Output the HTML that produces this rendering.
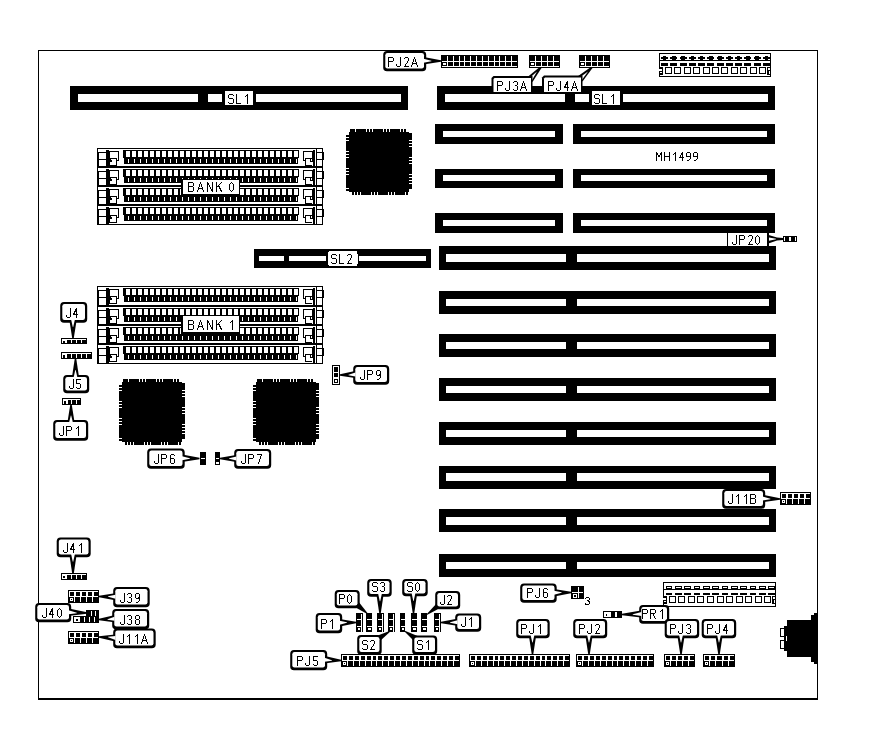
<!DOCTYPE html>
<html><head><meta charset="utf-8"><title>MH1499</title>
<style>
html,body{margin:0;padding:0;background:#fff;}
body{width:882px;height:737px;overflow:hidden;}
svg{display:block}
text{font-family:"Liberation Sans",sans-serif;fill:#000;}
.t{fill:none;stroke:#000;stroke-width:1;stroke-linecap:square;stroke-linejoin:bevel;}
</style></head><body>
<svg width="882" height="737" viewBox="0 0 882 737" shape-rendering="crispEdges">
<defs>
<pattern id="simmTop" x="0" y="0" width="6" height="8" patternUnits="userSpaceOnUse" patternTransform="translate(124 0)">
<rect x="0" y="0" width="6" height="8" fill="#000"/><rect x="2" y="0" width="4" height="8" fill="#fff"/></pattern>
<pattern id="simmBot" x="0" y="0" width="6" height="4" patternUnits="userSpaceOnUse" patternTransform="translate(124 0)">
<rect x="0" y="0" width="6" height="4" fill="#000"/><rect x="3.5" y="0" width="1.2" height="4" fill="#fff"/></pattern>
</defs>
<rect x="0" y="0" width="882" height="737" fill="#fff"/>
<rect x="38" y="50" width="780" height="1" fill="#000" />
<rect x="38" y="50" width="1" height="650" fill="#000" />
<rect x="817" y="50" width="1" height="650" fill="#000" />
<rect x="38" y="698" width="780" height="2" fill="#000" />
<rect x="70" y="86" width="338" height="24" fill="#000" />
<rect x="78" y="94" width="120" height="8" fill="#fff" />
<rect x="208" y="94" width="14" height="8" fill="#fff" />
<rect x="256" y="94" width="145" height="8" fill="#fff" />
<rect x="437" y="86" width="338" height="24" fill="#000" />
<rect x="445" y="94" width="120" height="8" fill="#fff" />
<rect x="575" y="94" width="14" height="8" fill="#fff" />
<rect x="623" y="94" width="145" height="8" fill="#fff" />
<rect x="435" y="124" width="128" height="20" fill="#000" />
<rect x="443" y="131" width="112" height="6" fill="#fff" />
<rect x="573" y="124" width="202" height="20" fill="#000" />
<rect x="581" y="131" width="186" height="6" fill="#fff" />
<rect x="435" y="169" width="128" height="19" fill="#000" />
<rect x="443" y="175" width="112" height="6" fill="#fff" />
<rect x="573" y="169" width="202" height="19" fill="#000" />
<rect x="581" y="175" width="186" height="6" fill="#fff" />
<rect x="435" y="213" width="128" height="20" fill="#000" />
<rect x="443" y="220" width="112" height="6" fill="#fff" />
<rect x="573" y="213" width="202" height="20" fill="#000" />
<rect x="581" y="220" width="186" height="6" fill="#fff" />
<rect x="439" y="246" width="337" height="24" fill="#000" />
<rect x="446" y="254" width="120" height="8" fill="#fff" />
<rect x="577" y="254" width="192" height="8" fill="#fff" />
<rect x="439" y="291" width="337" height="23" fill="#000" />
<rect x="446" y="299" width="120" height="7" fill="#fff" />
<rect x="577" y="299" width="192" height="7" fill="#fff" />
<rect x="439" y="334" width="337" height="23" fill="#000" />
<rect x="446" y="342" width="120" height="7" fill="#fff" />
<rect x="577" y="342" width="192" height="7" fill="#fff" />
<rect x="439" y="378" width="337" height="23" fill="#000" />
<rect x="446" y="386" width="120" height="7" fill="#fff" />
<rect x="577" y="386" width="192" height="7" fill="#fff" />
<rect x="439" y="422" width="337" height="23" fill="#000" />
<rect x="446" y="430" width="120" height="7" fill="#fff" />
<rect x="577" y="430" width="192" height="7" fill="#fff" />
<rect x="439" y="466" width="337" height="23" fill="#000" />
<rect x="446" y="473" width="120" height="8" fill="#fff" />
<rect x="577" y="473" width="192" height="8" fill="#fff" />
<rect x="439" y="509" width="337" height="23" fill="#000" />
<rect x="446" y="517" width="120" height="8" fill="#fff" />
<rect x="577" y="517" width="192" height="8" fill="#fff" />
<rect x="439" y="554" width="337" height="23" fill="#000" />
<rect x="446" y="562" width="120" height="7" fill="#fff" />
<rect x="577" y="562" width="192" height="7" fill="#fff" />
<rect x="254" y="249" width="177" height="19" fill="#000" />
<rect x="259" y="256" width="25" height="5" fill="#fff" />
<rect x="289" y="256" width="37" height="5" fill="#fff" />
<rect x="359" y="256" width="67" height="5" fill="#fff" />
<rect x="97" y="148" width="226" height="20" fill="#000" />
<rect x="98" y="149" width="224" height="18" fill="#fff" />
<rect x="97" y="148" width="2" height="19" fill="#000" />
<rect x="98" y="151.5" width="8" height="1" fill="#000" />
<rect x="98" y="158.5" width="8" height="1.5" fill="#000" />
<rect x="98" y="149" width="1" height="3" fill="#fff" />
<rect x="106" y="150" width="3" height="17" fill="#000" />
<rect x="109" y="151" width="10" height="10" fill="#000" />
<rect x="110" y="152" width="8" height="8" fill="#fff" />
<rect x="109" y="158" width="8" height="8" fill="#000" />
<rect x="109.5" y="162" width="6.5" height="3" fill="#fff" />
<rect x="111" y="159" width="5" height="3" fill="#fff" />
<rect x="109" y="160" width="3" height="2" fill="#000" />
<rect x="109" y="161" width="1" height="5" fill="#000" />
<rect x="316" y="149" width="1" height="18" fill="#000" />
<rect x="317" y="151.5" width="6" height="1" fill="#000" />
<rect x="317" y="158.5" width="6" height="1.5" fill="#000" />
<rect x="322" y="152" width="2" height="7.5" fill="#000" />
<rect x="312.5" y="150" width="2.5" height="17" fill="#000" />
<rect x="303" y="151" width="10" height="10" fill="#000" />
<rect x="304" y="152" width="8" height="8" fill="#fff" />
<rect x="305" y="158" width="7" height="8" fill="#000" />
<rect x="306" y="159" width="6" height="6" fill="#fff" />
<rect x="310" y="158" width="1" height="4" fill="#000" />
<rect x="310" y="161" width="3" height="1" fill="#000" />
<rect x="123" y="150" width="176" height="7.5" fill="#000" />
<rect x="124" y="157" width="174" height="7" fill="#000" />
<rect x="124" y="151" width="174" height="6.3" fill="url(#simmTop)"/>
<rect x="124" y="159" width="174" height="4" fill="url(#simmBot)"/>
<rect x="97" y="167" width="226" height="20" fill="#000" />
<rect x="98" y="168" width="224" height="18" fill="#fff" />
<rect x="97" y="167" width="2" height="19" fill="#000" />
<rect x="98" y="170.5" width="8" height="1" fill="#000" />
<rect x="98" y="177.5" width="8" height="1.5" fill="#000" />
<rect x="98" y="168" width="1" height="3" fill="#fff" />
<rect x="106" y="169" width="3" height="17" fill="#000" />
<rect x="109" y="170" width="10" height="10" fill="#000" />
<rect x="110" y="171" width="8" height="8" fill="#fff" />
<rect x="109" y="177" width="8" height="8" fill="#000" />
<rect x="109.5" y="181" width="6.5" height="3" fill="#fff" />
<rect x="111" y="178" width="5" height="3" fill="#fff" />
<rect x="109" y="179" width="3" height="2" fill="#000" />
<rect x="109" y="180" width="1" height="5" fill="#000" />
<rect x="316" y="168" width="1" height="18" fill="#000" />
<rect x="317" y="170.5" width="6" height="1" fill="#000" />
<rect x="317" y="177.5" width="6" height="1.5" fill="#000" />
<rect x="322" y="171" width="2" height="7.5" fill="#000" />
<rect x="312.5" y="169" width="2.5" height="17" fill="#000" />
<rect x="303" y="170" width="10" height="10" fill="#000" />
<rect x="304" y="171" width="8" height="8" fill="#fff" />
<rect x="305" y="177" width="7" height="8" fill="#000" />
<rect x="306" y="178" width="6" height="6" fill="#fff" />
<rect x="310" y="177" width="1" height="4" fill="#000" />
<rect x="310" y="180" width="3" height="1" fill="#000" />
<rect x="123" y="169" width="176" height="7.5" fill="#000" />
<rect x="124" y="176" width="174" height="7" fill="#000" />
<rect x="124" y="170" width="174" height="6.3" fill="url(#simmTop)"/>
<rect x="124" y="178" width="174" height="4" fill="url(#simmBot)"/>
<rect x="97" y="186" width="226" height="20" fill="#000" />
<rect x="98" y="187" width="224" height="18" fill="#fff" />
<rect x="97" y="186" width="2" height="19" fill="#000" />
<rect x="98" y="189.5" width="8" height="1" fill="#000" />
<rect x="98" y="196.5" width="8" height="1.5" fill="#000" />
<rect x="98" y="187" width="1" height="3" fill="#fff" />
<rect x="106" y="188" width="3" height="17" fill="#000" />
<rect x="109" y="189" width="10" height="10" fill="#000" />
<rect x="110" y="190" width="8" height="8" fill="#fff" />
<rect x="109" y="196" width="8" height="8" fill="#000" />
<rect x="109.5" y="200" width="6.5" height="3" fill="#fff" />
<rect x="111" y="197" width="5" height="3" fill="#fff" />
<rect x="109" y="198" width="3" height="2" fill="#000" />
<rect x="109" y="199" width="1" height="5" fill="#000" />
<rect x="316" y="187" width="1" height="18" fill="#000" />
<rect x="317" y="189.5" width="6" height="1" fill="#000" />
<rect x="317" y="196.5" width="6" height="1.5" fill="#000" />
<rect x="322" y="190" width="2" height="7.5" fill="#000" />
<rect x="312.5" y="188" width="2.5" height="17" fill="#000" />
<rect x="303" y="189" width="10" height="10" fill="#000" />
<rect x="304" y="190" width="8" height="8" fill="#fff" />
<rect x="305" y="196" width="7" height="8" fill="#000" />
<rect x="306" y="197" width="6" height="6" fill="#fff" />
<rect x="310" y="196" width="1" height="4" fill="#000" />
<rect x="310" y="199" width="3" height="1" fill="#000" />
<rect x="123" y="188" width="176" height="7.5" fill="#000" />
<rect x="124" y="195" width="174" height="7" fill="#000" />
<rect x="124" y="189" width="174" height="6.3" fill="url(#simmTop)"/>
<rect x="124" y="197" width="174" height="4" fill="url(#simmBot)"/>
<rect x="97" y="205" width="226" height="20" fill="#000" />
<rect x="98" y="206" width="224" height="18" fill="#fff" />
<rect x="97" y="205" width="2" height="19" fill="#000" />
<rect x="98" y="208.5" width="8" height="1" fill="#000" />
<rect x="98" y="215.5" width="8" height="1.5" fill="#000" />
<rect x="98" y="206" width="1" height="3" fill="#fff" />
<rect x="106" y="207" width="3" height="17" fill="#000" />
<rect x="109" y="208" width="10" height="10" fill="#000" />
<rect x="110" y="209" width="8" height="8" fill="#fff" />
<rect x="109" y="215" width="8" height="8" fill="#000" />
<rect x="109.5" y="219" width="6.5" height="3" fill="#fff" />
<rect x="111" y="216" width="5" height="3" fill="#fff" />
<rect x="109" y="217" width="3" height="2" fill="#000" />
<rect x="109" y="218" width="1" height="5" fill="#000" />
<rect x="316" y="206" width="1" height="18" fill="#000" />
<rect x="317" y="208.5" width="6" height="1" fill="#000" />
<rect x="317" y="215.5" width="6" height="1.5" fill="#000" />
<rect x="322" y="209" width="2" height="7.5" fill="#000" />
<rect x="312.5" y="207" width="2.5" height="17" fill="#000" />
<rect x="303" y="208" width="10" height="10" fill="#000" />
<rect x="304" y="209" width="8" height="8" fill="#fff" />
<rect x="305" y="215" width="7" height="8" fill="#000" />
<rect x="306" y="216" width="6" height="6" fill="#fff" />
<rect x="310" y="215" width="1" height="4" fill="#000" />
<rect x="310" y="218" width="3" height="1" fill="#000" />
<rect x="123" y="207" width="176" height="7.5" fill="#000" />
<rect x="124" y="214" width="174" height="7" fill="#000" />
<rect x="124" y="208" width="174" height="6.3" fill="url(#simmTop)"/>
<rect x="124" y="216" width="174" height="4" fill="url(#simmBot)"/>
<rect x="97" y="166" width="226" height="1" fill="#000" />
<rect x="97" y="185" width="226" height="1" fill="#000" />
<rect x="97" y="204" width="226" height="1" fill="#000" />
<rect x="97" y="286" width="226" height="20" fill="#000" />
<rect x="98" y="287" width="224" height="18" fill="#fff" />
<rect x="97" y="286" width="2" height="19" fill="#000" />
<rect x="98" y="289.5" width="8" height="1" fill="#000" />
<rect x="98" y="296.5" width="8" height="1.5" fill="#000" />
<rect x="98" y="287" width="1" height="3" fill="#fff" />
<rect x="106" y="288" width="3" height="17" fill="#000" />
<rect x="109" y="289" width="10" height="10" fill="#000" />
<rect x="110" y="290" width="8" height="8" fill="#fff" />
<rect x="109" y="296" width="8" height="8" fill="#000" />
<rect x="109.5" y="300" width="6.5" height="3" fill="#fff" />
<rect x="111" y="297" width="5" height="3" fill="#fff" />
<rect x="109" y="298" width="3" height="2" fill="#000" />
<rect x="109" y="299" width="1" height="5" fill="#000" />
<rect x="316" y="287" width="1" height="18" fill="#000" />
<rect x="317" y="289.5" width="6" height="1" fill="#000" />
<rect x="317" y="296.5" width="6" height="1.5" fill="#000" />
<rect x="322" y="290" width="2" height="7.5" fill="#000" />
<rect x="312.5" y="288" width="2.5" height="17" fill="#000" />
<rect x="303" y="289" width="10" height="10" fill="#000" />
<rect x="304" y="290" width="8" height="8" fill="#fff" />
<rect x="305" y="296" width="7" height="8" fill="#000" />
<rect x="306" y="297" width="6" height="6" fill="#fff" />
<rect x="310" y="296" width="1" height="4" fill="#000" />
<rect x="310" y="299" width="3" height="1" fill="#000" />
<rect x="123" y="288" width="176" height="7.5" fill="#000" />
<rect x="124" y="295" width="174" height="7" fill="#000" />
<rect x="124" y="289" width="174" height="6.3" fill="url(#simmTop)"/>
<rect x="124" y="297" width="174" height="4" fill="url(#simmBot)"/>
<rect x="97" y="306" width="226" height="20" fill="#000" />
<rect x="98" y="307" width="224" height="18" fill="#fff" />
<rect x="97" y="306" width="2" height="19" fill="#000" />
<rect x="98" y="309.5" width="8" height="1" fill="#000" />
<rect x="98" y="316.5" width="8" height="1.5" fill="#000" />
<rect x="98" y="307" width="1" height="3" fill="#fff" />
<rect x="106" y="308" width="3" height="17" fill="#000" />
<rect x="109" y="309" width="10" height="10" fill="#000" />
<rect x="110" y="310" width="8" height="8" fill="#fff" />
<rect x="109" y="316" width="8" height="8" fill="#000" />
<rect x="109.5" y="320" width="6.5" height="3" fill="#fff" />
<rect x="111" y="317" width="5" height="3" fill="#fff" />
<rect x="109" y="318" width="3" height="2" fill="#000" />
<rect x="109" y="319" width="1" height="5" fill="#000" />
<rect x="316" y="307" width="1" height="18" fill="#000" />
<rect x="317" y="309.5" width="6" height="1" fill="#000" />
<rect x="317" y="316.5" width="6" height="1.5" fill="#000" />
<rect x="322" y="310" width="2" height="7.5" fill="#000" />
<rect x="312.5" y="308" width="2.5" height="17" fill="#000" />
<rect x="303" y="309" width="10" height="10" fill="#000" />
<rect x="304" y="310" width="8" height="8" fill="#fff" />
<rect x="305" y="316" width="7" height="8" fill="#000" />
<rect x="306" y="317" width="6" height="6" fill="#fff" />
<rect x="310" y="316" width="1" height="4" fill="#000" />
<rect x="310" y="319" width="3" height="1" fill="#000" />
<rect x="123" y="308" width="176" height="7.5" fill="#000" />
<rect x="124" y="315" width="174" height="7" fill="#000" />
<rect x="124" y="309" width="174" height="6.3" fill="url(#simmTop)"/>
<rect x="124" y="317" width="174" height="4" fill="url(#simmBot)"/>
<rect x="97" y="325" width="226" height="20" fill="#000" />
<rect x="98" y="326" width="224" height="18" fill="#fff" />
<rect x="97" y="325" width="2" height="19" fill="#000" />
<rect x="98" y="328.5" width="8" height="1" fill="#000" />
<rect x="98" y="335.5" width="8" height="1.5" fill="#000" />
<rect x="98" y="326" width="1" height="3" fill="#fff" />
<rect x="106" y="327" width="3" height="17" fill="#000" />
<rect x="109" y="328" width="10" height="10" fill="#000" />
<rect x="110" y="329" width="8" height="8" fill="#fff" />
<rect x="109" y="335" width="8" height="8" fill="#000" />
<rect x="109.5" y="339" width="6.5" height="3" fill="#fff" />
<rect x="111" y="336" width="5" height="3" fill="#fff" />
<rect x="109" y="337" width="3" height="2" fill="#000" />
<rect x="109" y="338" width="1" height="5" fill="#000" />
<rect x="316" y="326" width="1" height="18" fill="#000" />
<rect x="317" y="328.5" width="6" height="1" fill="#000" />
<rect x="317" y="335.5" width="6" height="1.5" fill="#000" />
<rect x="322" y="329" width="2" height="7.5" fill="#000" />
<rect x="312.5" y="327" width="2.5" height="17" fill="#000" />
<rect x="303" y="328" width="10" height="10" fill="#000" />
<rect x="304" y="329" width="8" height="8" fill="#fff" />
<rect x="305" y="335" width="7" height="8" fill="#000" />
<rect x="306" y="336" width="6" height="6" fill="#fff" />
<rect x="310" y="335" width="1" height="4" fill="#000" />
<rect x="310" y="338" width="3" height="1" fill="#000" />
<rect x="123" y="327" width="176" height="7.5" fill="#000" />
<rect x="124" y="334" width="174" height="7" fill="#000" />
<rect x="124" y="328" width="174" height="6.3" fill="url(#simmTop)"/>
<rect x="124" y="336" width="174" height="4" fill="url(#simmBot)"/>
<rect x="97" y="344" width="226" height="20" fill="#000" />
<rect x="98" y="345" width="224" height="18" fill="#fff" />
<rect x="97" y="344" width="2" height="19" fill="#000" />
<rect x="98" y="347.5" width="8" height="1" fill="#000" />
<rect x="98" y="354.5" width="8" height="1.5" fill="#000" />
<rect x="98" y="345" width="1" height="3" fill="#fff" />
<rect x="106" y="346" width="3" height="17" fill="#000" />
<rect x="109" y="347" width="10" height="10" fill="#000" />
<rect x="110" y="348" width="8" height="8" fill="#fff" />
<rect x="109" y="354" width="8" height="8" fill="#000" />
<rect x="109.5" y="358" width="6.5" height="3" fill="#fff" />
<rect x="111" y="355" width="5" height="3" fill="#fff" />
<rect x="109" y="356" width="3" height="2" fill="#000" />
<rect x="109" y="357" width="1" height="5" fill="#000" />
<rect x="316" y="345" width="1" height="18" fill="#000" />
<rect x="317" y="347.5" width="6" height="1" fill="#000" />
<rect x="317" y="354.5" width="6" height="1.5" fill="#000" />
<rect x="322" y="348" width="2" height="7.5" fill="#000" />
<rect x="312.5" y="346" width="2.5" height="17" fill="#000" />
<rect x="303" y="347" width="10" height="10" fill="#000" />
<rect x="304" y="348" width="8" height="8" fill="#fff" />
<rect x="305" y="354" width="7" height="8" fill="#000" />
<rect x="306" y="355" width="6" height="6" fill="#fff" />
<rect x="310" y="354" width="1" height="4" fill="#000" />
<rect x="310" y="357" width="3" height="1" fill="#000" />
<rect x="123" y="346" width="176" height="7.5" fill="#000" />
<rect x="124" y="353" width="174" height="7" fill="#000" />
<rect x="124" y="347" width="174" height="6.3" fill="url(#simmTop)"/>
<rect x="124" y="355" width="174" height="4" fill="url(#simmBot)"/>
<rect x="97" y="305" width="226" height="1" fill="#000" />
<rect x="97" y="324" width="226" height="1" fill="#000" />
<rect x="97" y="343" width="226" height="1" fill="#000" />
<rect x="181" y="179" width="59" height="16.5" fill="#000" />
<rect x="183" y="180" width="56" height="13.5" fill="#fff" />
<path d="M188.5,182.5 L188.5,191.5 L192.5,191.5 L193.5,190.5 L193.5,187.5 L192.5,186.5 L188.5,186.5M188.5,182.5 L192.5,182.5 L193.5,183.5 L193.5,185.5 L192.5,186.5" class="t"/>
<path d="M197.5,191.5 L200.5,182.5 L203.5,191.5M198.5,188.5 L202.5,188.5" class="t"/>
<path d="M207.5,191.5 L207.5,182.5 L212.5,191.5 L212.5,182.5" class="t"/>
<path d="M216.5,182.5 L216.5,191.5M221.5,182.5 L216.5,187.5M218.5,185.5 L221.5,191.5" class="t"/>
<path d="M231.5,182.5 L233.5,184.5 L233.5,189.5 L231.5,191.5 L229.5,189.5 L229.5,184.5 L231.5,182.5" class="t"/>
<rect x="181" y="315" width="59" height="18.5" fill="#000" />
<rect x="183" y="316" width="56" height="15.5" fill="#fff" />
<path d="M188.5,320.5 L188.5,329.5 L192.5,329.5 L193.5,328.5 L193.5,325.5 L192.5,324.5 L188.5,324.5M188.5,320.5 L192.5,320.5 L193.5,321.5 L193.5,323.5 L192.5,324.5" class="t"/>
<path d="M197.5,329.5 L200.5,320.5 L203.5,329.5M198.5,326.5 L202.5,326.5" class="t"/>
<path d="M207.5,329.5 L207.5,320.5 L212.5,329.5 L212.5,320.5" class="t"/>
<path d="M216.5,320.5 L216.5,329.5M221.5,320.5 L216.5,325.5M218.5,323.5 L221.5,329.5" class="t"/>
<path d="M230.5,322.5 L232.5,320.5 L232.5,329.5" class="t"/>
<rect x="225" y="91" width="28" height="14" fill="#fff" />
<path d="M233.5,95.5 L232.5,94.5 L229.5,94.5 L228.5,95.5 L228.5,97.5 L229.5,98.5 L232.5,98.5 L233.5,99.5 L233.5,102.5 L232.5,103.5 L229.5,103.5 L228.5,102.5" class="t"/>
<path d="M236.5,94.5 L236.5,103.5 L240.5,103.5" class="t"/>
<path d="M245.5,96.5 L247.5,94.5 L247.5,103.5" class="t"/>
<rect x="592" y="91" width="28" height="14" fill="#fff" />
<path d="M599.5,95.5 L598.5,94.5 L595.5,94.5 L594.5,95.5 L594.5,97.5 L595.5,98.5 L598.5,98.5 L599.5,99.5 L599.5,102.5 L598.5,103.5 L595.5,103.5 L594.5,102.5" class="t"/>
<path d="M602.5,94.5 L602.5,103.5 L606.5,103.5" class="t"/>
<path d="M611.5,96.5 L613.5,94.5 L613.5,103.5" class="t"/>
<rect x="328" y="251" width="29.5" height="15" rx="2.5" fill="#fff"/>
<path d="M336.5,255.5 L335.5,254.5 L332.5,254.5 L331.5,255.5 L331.5,257.5 L332.5,258.5 L335.5,258.5 L336.5,259.5 L336.5,262.5 L335.5,263.5 L332.5,263.5 L331.5,262.5" class="t"/>
<path d="M339.5,254.5 L339.5,263.5 L343.5,263.5" class="t"/>
<path d="M347.5,255.5 L348.5,254.5 L350.5,254.5 L351.5,255.5 L351.5,257.5 L347.5,263.5 L351.5,263.5" class="t"/>
<polygon points="350,129 406,129 406,132 409,132 409,133 412,133 412,189 409,189 409,192 408,192 408,195 352,195 352,192 349,192 349,191 346,191 346,135 349,135 349,132 350,132" fill="#000" shape-rendering="geometricPrecision"/>
<rect x="355" y="129" width="1" height="3" fill="#fff" />
<rect x="366" y="129" width="1" height="3" fill="#fff" />
<rect x="369" y="129" width="1" height="3" fill="#fff" />
<rect x="372" y="129" width="1" height="3" fill="#fff" />
<rect x="383" y="129" width="1" height="3" fill="#fff" />
<rect x="386" y="129" width="1" height="3" fill="#fff" />
<rect x="389" y="129" width="1" height="3" fill="#fff" />
<rect x="400" y="129" width="1" height="3" fill="#fff" />
<rect x="403" y="129" width="1" height="3" fill="#fff" />
<rect x="354" y="192" width="1" height="3" fill="#fff" />
<rect x="357" y="192" width="1" height="3" fill="#fff" />
<rect x="360" y="192" width="1" height="3" fill="#fff" />
<rect x="371" y="192" width="1" height="3" fill="#fff" />
<rect x="374" y="192" width="1" height="3" fill="#fff" />
<rect x="377" y="192" width="1" height="3" fill="#fff" />
<rect x="388" y="192" width="1" height="3" fill="#fff" />
<rect x="391" y="192" width="1" height="3" fill="#fff" />
<rect x="394" y="192" width="1" height="3" fill="#fff" />
<rect x="405" y="192" width="1" height="3" fill="#fff" />
<rect x="408" y="192" width="1" height="3" fill="#fff" />
<rect x="346" y="134" width="3" height="1" fill="#fff" />
<rect x="346" y="137" width="3" height="1" fill="#fff" />
<rect x="346" y="140" width="3" height="1" fill="#fff" />
<rect x="346" y="151" width="3" height="1" fill="#fff" />
<rect x="346" y="154" width="3" height="1" fill="#fff" />
<rect x="346" y="157" width="3" height="1" fill="#fff" />
<rect x="346" y="168" width="3" height="1" fill="#fff" />
<rect x="346" y="171" width="3" height="1" fill="#fff" />
<rect x="346" y="174" width="3" height="1" fill="#fff" />
<rect x="346" y="188" width="3" height="1" fill="#fff" />
<rect x="409" y="140" width="3" height="1" fill="#fff" />
<rect x="409" y="143" width="3" height="1" fill="#fff" />
<rect x="409" y="146" width="3" height="1" fill="#fff" />
<rect x="409" y="157" width="3" height="1" fill="#fff" />
<rect x="409" y="160" width="3" height="1" fill="#fff" />
<rect x="409" y="163" width="3" height="1" fill="#fff" />
<rect x="409" y="174" width="3" height="1" fill="#fff" />
<rect x="409" y="177" width="3" height="1" fill="#fff" />
<rect x="409" y="180" width="3" height="1" fill="#fff" />
<rect x="409" y="183" width="3" height="1" fill="#fff" />
<polygon points="123,379 179,379 179,382 182,382 182,383 185,383 185,439 182,439 182,442 181,442 181,445 125,445 125,442 122,442 122,441 119,441 119,385 122,385 122,382 123,382" fill="#000" shape-rendering="geometricPrecision"/>
<rect x="128" y="379" width="1" height="3" fill="#fff" />
<rect x="139" y="379" width="1" height="3" fill="#fff" />
<rect x="142" y="379" width="1" height="3" fill="#fff" />
<rect x="145" y="379" width="1" height="3" fill="#fff" />
<rect x="156" y="379" width="1" height="3" fill="#fff" />
<rect x="159" y="379" width="1" height="3" fill="#fff" />
<rect x="162" y="379" width="1" height="3" fill="#fff" />
<rect x="173" y="379" width="1" height="3" fill="#fff" />
<rect x="176" y="379" width="1" height="3" fill="#fff" />
<rect x="127" y="442" width="1" height="3" fill="#fff" />
<rect x="130" y="442" width="1" height="3" fill="#fff" />
<rect x="133" y="442" width="1" height="3" fill="#fff" />
<rect x="144" y="442" width="1" height="3" fill="#fff" />
<rect x="147" y="442" width="1" height="3" fill="#fff" />
<rect x="150" y="442" width="1" height="3" fill="#fff" />
<rect x="161" y="442" width="1" height="3" fill="#fff" />
<rect x="164" y="442" width="1" height="3" fill="#fff" />
<rect x="167" y="442" width="1" height="3" fill="#fff" />
<rect x="178" y="442" width="1" height="3" fill="#fff" />
<rect x="181" y="442" width="1" height="3" fill="#fff" />
<rect x="119" y="384" width="3" height="1" fill="#fff" />
<rect x="119" y="387" width="3" height="1" fill="#fff" />
<rect x="119" y="390" width="3" height="1" fill="#fff" />
<rect x="119" y="401" width="3" height="1" fill="#fff" />
<rect x="119" y="404" width="3" height="1" fill="#fff" />
<rect x="119" y="407" width="3" height="1" fill="#fff" />
<rect x="119" y="418" width="3" height="1" fill="#fff" />
<rect x="119" y="421" width="3" height="1" fill="#fff" />
<rect x="119" y="424" width="3" height="1" fill="#fff" />
<rect x="119" y="438" width="3" height="1" fill="#fff" />
<rect x="182" y="390" width="3" height="1" fill="#fff" />
<rect x="182" y="393" width="3" height="1" fill="#fff" />
<rect x="182" y="396" width="3" height="1" fill="#fff" />
<rect x="182" y="407" width="3" height="1" fill="#fff" />
<rect x="182" y="410" width="3" height="1" fill="#fff" />
<rect x="182" y="413" width="3" height="1" fill="#fff" />
<rect x="182" y="424" width="3" height="1" fill="#fff" />
<rect x="182" y="427" width="3" height="1" fill="#fff" />
<rect x="182" y="430" width="3" height="1" fill="#fff" />
<rect x="182" y="433" width="3" height="1" fill="#fff" />
<polygon points="257,379 313,379 313,382 316,382 316,383 319,383 319,439 316,439 316,442 315,442 315,445 259,445 259,442 256,442 256,441 253,441 253,385 256,385 256,382 257,382" fill="#000" shape-rendering="geometricPrecision"/>
<rect x="262" y="379" width="1" height="3" fill="#fff" />
<rect x="273" y="379" width="1" height="3" fill="#fff" />
<rect x="276" y="379" width="1" height="3" fill="#fff" />
<rect x="279" y="379" width="1" height="3" fill="#fff" />
<rect x="290" y="379" width="1" height="3" fill="#fff" />
<rect x="293" y="379" width="1" height="3" fill="#fff" />
<rect x="296" y="379" width="1" height="3" fill="#fff" />
<rect x="307" y="379" width="1" height="3" fill="#fff" />
<rect x="310" y="379" width="1" height="3" fill="#fff" />
<rect x="261" y="442" width="1" height="3" fill="#fff" />
<rect x="264" y="442" width="1" height="3" fill="#fff" />
<rect x="267" y="442" width="1" height="3" fill="#fff" />
<rect x="278" y="442" width="1" height="3" fill="#fff" />
<rect x="281" y="442" width="1" height="3" fill="#fff" />
<rect x="284" y="442" width="1" height="3" fill="#fff" />
<rect x="295" y="442" width="1" height="3" fill="#fff" />
<rect x="298" y="442" width="1" height="3" fill="#fff" />
<rect x="301" y="442" width="1" height="3" fill="#fff" />
<rect x="312" y="442" width="1" height="3" fill="#fff" />
<rect x="315" y="442" width="1" height="3" fill="#fff" />
<rect x="253" y="384" width="3" height="1" fill="#fff" />
<rect x="253" y="387" width="3" height="1" fill="#fff" />
<rect x="253" y="390" width="3" height="1" fill="#fff" />
<rect x="253" y="401" width="3" height="1" fill="#fff" />
<rect x="253" y="404" width="3" height="1" fill="#fff" />
<rect x="253" y="407" width="3" height="1" fill="#fff" />
<rect x="253" y="418" width="3" height="1" fill="#fff" />
<rect x="253" y="421" width="3" height="1" fill="#fff" />
<rect x="253" y="424" width="3" height="1" fill="#fff" />
<rect x="253" y="438" width="3" height="1" fill="#fff" />
<rect x="316" y="390" width="3" height="1" fill="#fff" />
<rect x="316" y="393" width="3" height="1" fill="#fff" />
<rect x="316" y="396" width="3" height="1" fill="#fff" />
<rect x="316" y="407" width="3" height="1" fill="#fff" />
<rect x="316" y="410" width="3" height="1" fill="#fff" />
<rect x="316" y="413" width="3" height="1" fill="#fff" />
<rect x="316" y="424" width="3" height="1" fill="#fff" />
<rect x="316" y="427" width="3" height="1" fill="#fff" />
<rect x="316" y="430" width="3" height="1" fill="#fff" />
<rect x="316" y="433" width="3" height="1" fill="#fff" />
<rect x="441" y="55" width="77" height="13" fill="#000" />
<rect x="442" y="61" width="75" height="1" fill="#fff" />
<rect x="442" y="66" width="75" height="1" fill="#fff" />
<rect x="447" y="56" width="1" height="11" fill="#fff" />
<rect x="453" y="56" width="1" height="11" fill="#fff" />
<rect x="459" y="56" width="1" height="11" fill="#fff" />
<rect x="464" y="56" width="1" height="11" fill="#fff" />
<rect x="470" y="56" width="1" height="11" fill="#fff" />
<rect x="476" y="56" width="1" height="11" fill="#fff" />
<rect x="482" y="56" width="1" height="11" fill="#fff" />
<rect x="488" y="56" width="1" height="11" fill="#fff" />
<rect x="494" y="56" width="1" height="11" fill="#fff" />
<rect x="499" y="56" width="1" height="11" fill="#fff" />
<rect x="505" y="56" width="1" height="11" fill="#fff" />
<rect x="511" y="56" width="1" height="11" fill="#fff" />
<rect x="517" y="56" width="1" height="11" fill="#fff" />
<rect x="517" y="55" width="1" height="13" fill="#000" />
<rect x="442" y="62" width="5" height="4" fill="#000" />
<rect x="443" y="63" width="3" height="2" fill="#fff" />
<rect x="529" y="55" width="31" height="13" fill="#000" />
<rect x="530" y="61" width="29" height="1" fill="#fff" />
<rect x="530" y="66" width="29" height="1" fill="#fff" />
<rect x="535" y="56" width="1" height="11" fill="#fff" />
<rect x="541" y="56" width="1" height="11" fill="#fff" />
<rect x="547" y="56" width="1" height="11" fill="#fff" />
<rect x="553" y="56" width="1" height="11" fill="#fff" />
<rect x="559" y="56" width="1" height="11" fill="#fff" />
<rect x="559" y="55" width="1" height="13" fill="#000" />
<rect x="530" y="62" width="5" height="4" fill="#000" />
<rect x="531" y="63" width="3" height="2" fill="#fff" />
<rect x="579" y="55" width="31" height="13" fill="#000" />
<rect x="580" y="61" width="29" height="1" fill="#fff" />
<rect x="580" y="66" width="29" height="1" fill="#fff" />
<rect x="585" y="56" width="1" height="11" fill="#fff" />
<rect x="591" y="56" width="1" height="11" fill="#fff" />
<rect x="597" y="56" width="1" height="11" fill="#fff" />
<rect x="603" y="56" width="1" height="11" fill="#fff" />
<rect x="609" y="56" width="1" height="11" fill="#fff" />
<rect x="609" y="55" width="1" height="13" fill="#000" />
<rect x="580" y="62" width="5" height="4" fill="#000" />
<rect x="581" y="63" width="3" height="2" fill="#fff" />
<rect x="341" y="654" width="119" height="13" fill="#000" />
<rect x="342" y="655" width="117" height="1" fill="#fff" />
<rect x="342" y="660" width="117" height="1" fill="#fff" />
<rect x="347" y="656" width="1" height="10" fill="#fff" />
<rect x="342" y="656" width="1" height="4" fill="#fff" />
<rect x="353" y="656" width="1" height="10" fill="#fff" />
<rect x="348" y="656" width="1" height="4" fill="#fff" />
<rect x="359" y="656" width="1" height="10" fill="#fff" />
<rect x="354" y="656" width="1" height="4" fill="#fff" />
<rect x="365" y="656" width="1" height="10" fill="#fff" />
<rect x="360" y="656" width="1" height="4" fill="#fff" />
<rect x="371" y="656" width="1" height="10" fill="#fff" />
<rect x="366" y="656" width="1" height="4" fill="#fff" />
<rect x="376" y="656" width="1" height="10" fill="#fff" />
<rect x="372" y="656" width="1" height="4" fill="#fff" />
<rect x="382" y="656" width="1" height="10" fill="#fff" />
<rect x="377" y="656" width="1" height="4" fill="#fff" />
<rect x="388" y="656" width="1" height="10" fill="#fff" />
<rect x="383" y="656" width="1" height="4" fill="#fff" />
<rect x="394" y="656" width="1" height="10" fill="#fff" />
<rect x="389" y="656" width="1" height="4" fill="#fff" />
<rect x="400" y="656" width="1" height="10" fill="#fff" />
<rect x="395" y="656" width="1" height="4" fill="#fff" />
<rect x="406" y="656" width="1" height="10" fill="#fff" />
<rect x="401" y="656" width="1" height="4" fill="#fff" />
<rect x="412" y="656" width="1" height="10" fill="#fff" />
<rect x="407" y="656" width="1" height="4" fill="#fff" />
<rect x="418" y="656" width="1" height="10" fill="#fff" />
<rect x="413" y="656" width="1" height="4" fill="#fff" />
<rect x="424" y="656" width="1" height="10" fill="#fff" />
<rect x="419" y="656" width="1" height="4" fill="#fff" />
<rect x="429" y="656" width="1" height="10" fill="#fff" />
<rect x="425" y="656" width="1" height="4" fill="#fff" />
<rect x="435" y="656" width="1" height="10" fill="#fff" />
<rect x="430" y="656" width="1" height="4" fill="#fff" />
<rect x="441" y="656" width="1" height="10" fill="#fff" />
<rect x="436" y="656" width="1" height="4" fill="#fff" />
<rect x="447" y="656" width="1" height="10" fill="#fff" />
<rect x="442" y="656" width="1" height="4" fill="#fff" />
<rect x="453" y="656" width="1" height="10" fill="#fff" />
<rect x="448" y="656" width="1" height="4" fill="#fff" />
<rect x="459" y="656" width="1" height="10" fill="#fff" />
<rect x="454" y="656" width="1" height="4" fill="#fff" />
<rect x="459" y="654" width="1" height="13" fill="#000" />
<rect x="343" y="662" width="3" height="3" fill="#fff" />
<rect x="344" y="663" width="1" height="1" fill="#000" />
<rect x="469" y="654" width="101" height="13" fill="#000" />
<rect x="470" y="655" width="99" height="1" fill="#fff" />
<rect x="470" y="660" width="99" height="1" fill="#fff" />
<rect x="475" y="656" width="1" height="10" fill="#fff" />
<rect x="470" y="656" width="1" height="4" fill="#fff" />
<rect x="481" y="656" width="1" height="10" fill="#fff" />
<rect x="476" y="656" width="1" height="4" fill="#fff" />
<rect x="487" y="656" width="1" height="10" fill="#fff" />
<rect x="482" y="656" width="1" height="4" fill="#fff" />
<rect x="493" y="656" width="1" height="10" fill="#fff" />
<rect x="488" y="656" width="1" height="4" fill="#fff" />
<rect x="498" y="656" width="1" height="10" fill="#fff" />
<rect x="494" y="656" width="1" height="4" fill="#fff" />
<rect x="504" y="656" width="1" height="10" fill="#fff" />
<rect x="499" y="656" width="1" height="4" fill="#fff" />
<rect x="510" y="656" width="1" height="10" fill="#fff" />
<rect x="505" y="656" width="1" height="4" fill="#fff" />
<rect x="516" y="656" width="1" height="10" fill="#fff" />
<rect x="511" y="656" width="1" height="4" fill="#fff" />
<rect x="522" y="656" width="1" height="10" fill="#fff" />
<rect x="517" y="656" width="1" height="4" fill="#fff" />
<rect x="528" y="656" width="1" height="10" fill="#fff" />
<rect x="523" y="656" width="1" height="4" fill="#fff" />
<rect x="534" y="656" width="1" height="10" fill="#fff" />
<rect x="529" y="656" width="1" height="4" fill="#fff" />
<rect x="540" y="656" width="1" height="10" fill="#fff" />
<rect x="535" y="656" width="1" height="4" fill="#fff" />
<rect x="545" y="656" width="1" height="10" fill="#fff" />
<rect x="541" y="656" width="1" height="4" fill="#fff" />
<rect x="551" y="656" width="1" height="10" fill="#fff" />
<rect x="546" y="656" width="1" height="4" fill="#fff" />
<rect x="557" y="656" width="1" height="10" fill="#fff" />
<rect x="552" y="656" width="1" height="4" fill="#fff" />
<rect x="563" y="656" width="1" height="10" fill="#fff" />
<rect x="558" y="656" width="1" height="4" fill="#fff" />
<rect x="569" y="656" width="1" height="10" fill="#fff" />
<rect x="564" y="656" width="1" height="4" fill="#fff" />
<rect x="569" y="654" width="1" height="13" fill="#000" />
<rect x="471" y="662" width="3" height="3" fill="#fff" />
<rect x="472" y="663" width="1" height="1" fill="#000" />
<rect x="576" y="654" width="78" height="13" fill="#000" />
<rect x="577" y="655" width="76" height="1" fill="#fff" />
<rect x="577" y="660" width="76" height="1" fill="#fff" />
<rect x="582" y="656" width="1" height="10" fill="#fff" />
<rect x="577" y="656" width="1" height="4" fill="#fff" />
<rect x="588" y="656" width="1" height="10" fill="#fff" />
<rect x="583" y="656" width="1" height="4" fill="#fff" />
<rect x="594" y="656" width="1" height="10" fill="#fff" />
<rect x="589" y="656" width="1" height="4" fill="#fff" />
<rect x="600" y="656" width="1" height="10" fill="#fff" />
<rect x="595" y="656" width="1" height="4" fill="#fff" />
<rect x="606" y="656" width="1" height="10" fill="#fff" />
<rect x="601" y="656" width="1" height="4" fill="#fff" />
<rect x="612" y="656" width="1" height="10" fill="#fff" />
<rect x="607" y="656" width="1" height="4" fill="#fff" />
<rect x="617" y="656" width="1" height="10" fill="#fff" />
<rect x="613" y="656" width="1" height="4" fill="#fff" />
<rect x="623" y="656" width="1" height="10" fill="#fff" />
<rect x="618" y="656" width="1" height="4" fill="#fff" />
<rect x="629" y="656" width="1" height="10" fill="#fff" />
<rect x="624" y="656" width="1" height="4" fill="#fff" />
<rect x="635" y="656" width="1" height="10" fill="#fff" />
<rect x="630" y="656" width="1" height="4" fill="#fff" />
<rect x="641" y="656" width="1" height="10" fill="#fff" />
<rect x="636" y="656" width="1" height="4" fill="#fff" />
<rect x="647" y="656" width="1" height="10" fill="#fff" />
<rect x="642" y="656" width="1" height="4" fill="#fff" />
<rect x="653" y="656" width="1" height="10" fill="#fff" />
<rect x="648" y="656" width="1" height="4" fill="#fff" />
<rect x="653" y="654" width="1" height="13" fill="#000" />
<rect x="578" y="662" width="3" height="3" fill="#fff" />
<rect x="579" y="663" width="1" height="1" fill="#000" />
<rect x="664" y="654" width="31" height="13" fill="#000" />
<rect x="665" y="655" width="29" height="1" fill="#fff" />
<rect x="665" y="660" width="29" height="1" fill="#fff" />
<rect x="670" y="656" width="1" height="10" fill="#fff" />
<rect x="665" y="656" width="1" height="4" fill="#fff" />
<rect x="676" y="656" width="1" height="10" fill="#fff" />
<rect x="671" y="656" width="1" height="4" fill="#fff" />
<rect x="682" y="656" width="1" height="10" fill="#fff" />
<rect x="677" y="656" width="1" height="4" fill="#fff" />
<rect x="688" y="656" width="1" height="10" fill="#fff" />
<rect x="683" y="656" width="1" height="4" fill="#fff" />
<rect x="694" y="656" width="1" height="10" fill="#fff" />
<rect x="689" y="656" width="1" height="4" fill="#fff" />
<rect x="694" y="654" width="1" height="13" fill="#000" />
<rect x="666" y="662" width="3" height="3" fill="#fff" />
<rect x="667" y="663" width="1" height="1" fill="#000" />
<rect x="703" y="654" width="32" height="13" fill="#000" />
<rect x="704" y="655" width="30" height="1" fill="#fff" />
<rect x="704" y="660" width="30" height="1" fill="#fff" />
<rect x="709" y="656" width="1" height="10" fill="#fff" />
<rect x="704" y="656" width="1" height="4" fill="#fff" />
<rect x="715" y="656" width="1" height="10" fill="#fff" />
<rect x="710" y="656" width="1" height="4" fill="#fff" />
<rect x="722" y="656" width="1" height="10" fill="#fff" />
<rect x="716" y="656" width="1" height="4" fill="#fff" />
<rect x="728" y="656" width="1" height="10" fill="#fff" />
<rect x="723" y="656" width="1" height="4" fill="#fff" />
<rect x="734" y="656" width="1" height="10" fill="#fff" />
<rect x="729" y="656" width="1" height="4" fill="#fff" />
<rect x="734" y="654" width="1" height="13" fill="#000" />
<rect x="705" y="662" width="3" height="3" fill="#fff" />
<rect x="706" y="663" width="1" height="1" fill="#000" />
<rect x="68" y="590" width="31" height="13" fill="#000" />
<rect x="69" y="591" width="29" height="1" fill="#fff" />
<rect x="69" y="596" width="29" height="1" fill="#fff" />
<rect x="74" y="592" width="1" height="10" fill="#fff" />
<rect x="69" y="592" width="1" height="4" fill="#fff" />
<rect x="80" y="592" width="1" height="10" fill="#fff" />
<rect x="75" y="592" width="1" height="4" fill="#fff" />
<rect x="86" y="592" width="1" height="10" fill="#fff" />
<rect x="81" y="592" width="1" height="4" fill="#fff" />
<rect x="92" y="592" width="1" height="10" fill="#fff" />
<rect x="87" y="592" width="1" height="4" fill="#fff" />
<rect x="98" y="592" width="1" height="10" fill="#fff" />
<rect x="93" y="592" width="1" height="4" fill="#fff" />
<rect x="98" y="590" width="1" height="13" fill="#000" />
<rect x="70" y="598" width="3" height="3" fill="#fff" />
<rect x="71" y="599" width="1" height="1" fill="#000" />
<rect x="68" y="630.5" width="31" height="13" fill="#000" />
<rect x="69" y="631.5" width="29" height="1" fill="#fff" />
<rect x="69" y="636.5" width="29" height="1" fill="#fff" />
<rect x="74" y="632.5" width="1" height="10" fill="#fff" />
<rect x="69" y="632.5" width="1" height="4" fill="#fff" />
<rect x="80" y="632.5" width="1" height="10" fill="#fff" />
<rect x="75" y="632.5" width="1" height="4" fill="#fff" />
<rect x="86" y="632.5" width="1" height="10" fill="#fff" />
<rect x="81" y="632.5" width="1" height="4" fill="#fff" />
<rect x="92" y="632.5" width="1" height="10" fill="#fff" />
<rect x="87" y="632.5" width="1" height="4" fill="#fff" />
<rect x="98" y="632.5" width="1" height="10" fill="#fff" />
<rect x="93" y="632.5" width="1" height="4" fill="#fff" />
<rect x="98" y="630.5" width="1" height="13" fill="#000" />
<rect x="70" y="638.5" width="3" height="3" fill="#fff" />
<rect x="71" y="639.5" width="1" height="1" fill="#000" />
<rect x="780" y="492" width="31" height="13" fill="#000" />
<rect x="781" y="493" width="29" height="1" fill="#fff" />
<rect x="781" y="498" width="29" height="1" fill="#fff" />
<rect x="786" y="494" width="1" height="10" fill="#fff" />
<rect x="781" y="494" width="1" height="4" fill="#fff" />
<rect x="792" y="494" width="1" height="10" fill="#fff" />
<rect x="787" y="494" width="1" height="4" fill="#fff" />
<rect x="798" y="494" width="1" height="10" fill="#fff" />
<rect x="793" y="494" width="1" height="4" fill="#fff" />
<rect x="804" y="494" width="1" height="10" fill="#fff" />
<rect x="799" y="494" width="1" height="4" fill="#fff" />
<rect x="810" y="494" width="1" height="10" fill="#fff" />
<rect x="805" y="494" width="1" height="4" fill="#fff" />
<rect x="810" y="492" width="1" height="13" fill="#000" />
<rect x="782" y="500" width="3" height="3" fill="#fff" />
<rect x="783" y="501" width="1" height="1" fill="#000" />
<rect x="61" y="338" width="26" height="6" fill="#000" />
<rect x="62" y="339" width="24" height="1" fill="#fff" />
<rect x="66" y="339" width="1" height="4" fill="#fff" />
<rect x="71" y="339" width="1" height="4" fill="#fff" />
<rect x="76" y="339" width="1" height="4" fill="#fff" />
<rect x="81" y="339" width="1" height="4" fill="#fff" />
<rect x="62" y="339" width="4" height="4" fill="#fff" />
<rect x="63" y="340.5" width="2" height="2" fill="#000" />
<rect x="61" y="352" width="31" height="7" fill="#000" />
<rect x="62" y="353" width="29" height="1" fill="#fff" />
<rect x="66" y="353" width="1" height="5" fill="#fff" />
<rect x="71" y="353" width="1" height="5" fill="#fff" />
<rect x="76" y="353" width="1" height="5" fill="#fff" />
<rect x="81" y="353" width="1" height="5" fill="#fff" />
<rect x="86" y="353" width="1" height="5" fill="#fff" />
<rect x="62" y="353" width="4" height="5" fill="#fff" />
<rect x="63" y="354.5" width="2" height="3" fill="#000" />
<rect x="62" y="398" width="19.4" height="7" fill="#000" />
<rect x="63" y="399" width="17.4" height="1" fill="#fff" />
<rect x="67" y="399" width="1" height="5" fill="#fff" />
<rect x="71" y="399" width="1" height="5" fill="#fff" />
<rect x="76" y="399" width="1" height="5" fill="#fff" />
<rect x="63" y="399" width="4" height="5" fill="#fff" />
<rect x="64" y="400.5" width="2" height="3" fill="#000" />
<rect x="61" y="573" width="26" height="6.5" fill="#000" />
<rect x="62" y="574" width="24" height="1" fill="#fff" />
<rect x="66" y="574" width="1" height="4.5" fill="#fff" />
<rect x="71" y="574" width="1" height="4.5" fill="#fff" />
<rect x="76" y="574" width="1" height="4.5" fill="#fff" />
<rect x="81" y="574" width="1" height="4.5" fill="#fff" />
<rect x="62" y="574" width="4" height="4.5" fill="#fff" />
<rect x="63" y="575.5" width="2" height="2.5" fill="#000" />
<rect x="783" y="236" width="14" height="6" fill="#000" />
<rect x="784" y="237" width="1" height="4" fill="#fff" />
<rect x="789" y="237" width="2" height="4" fill="#fff" />
<rect x="795" y="237" width="1" height="4" fill="#fff" />
<rect x="603" y="611" width="19" height="7" fill="#000" />
<rect x="604" y="612" width="4.5" height="5" fill="#fff" />
<rect x="605.5" y="613.5" width="1.5" height="2" fill="#000" />
<rect x="609" y="612" width="2" height="5" fill="#fff" />
<rect x="615" y="612" width="2" height="5" fill="#fff" />
<rect x="332" y="365" width="7.5" height="20" fill="#000" />
<rect x="333" y="366" width="5.5" height="18" fill="#fff" />
<rect x="333.5" y="367" width="4.5" height="4.5" fill="#000" />
<rect x="333.5" y="372.5" width="4.5" height="4.5" fill="#000" />
<rect x="334" y="378.5" width="3.5" height="4.5" fill="#000" />
<rect x="335" y="379.5" width="1.5" height="2.5" fill="#fff" />
<rect x="199.5" y="452" width="6" height="13" fill="#000" />
<rect x="200.5" y="458" width="4" height="1" fill="#fff" />
<rect x="214.5" y="452" width="5.5" height="13" fill="#000" />
<rect x="215.5" y="458" width="3.5" height="1" fill="#fff" />
<rect x="215.5" y="461.5" width="3.5" height="2.5" fill="#fff" />
<rect x="356" y="613" width="5" height="19" fill="#000" />
<rect x="357" y="619" width="4" height="1" fill="#fff" />
<rect x="357" y="625.5" width="4" height="1" fill="#fff" />
<rect x="358" y="627.5" width="2" height="2.5" fill="#fff" />
<rect x="356" y="613" width="7" height="1" fill="#000" />
<rect x="362" y="613" width="1" height="19" fill="#000" />
<rect x="366" y="613" width="6" height="19" fill="#000" />
<rect x="367" y="619" width="5" height="1" fill="#fff" />
<rect x="367" y="625.5" width="5" height="1" fill="#fff" />
<rect x="368" y="627.5" width="3" height="2.5" fill="#fff" />
<rect x="377" y="613" width="5" height="19" fill="#000" />
<rect x="378" y="619" width="4" height="1" fill="#fff" />
<rect x="378" y="625.5" width="4" height="1" fill="#fff" />
<rect x="379" y="627.5" width="2" height="2.5" fill="#fff" />
<rect x="377" y="613" width="7" height="1" fill="#000" />
<rect x="383" y="613" width="1" height="19" fill="#000" />
<rect x="388" y="613" width="5" height="19" fill="#000" />
<rect x="389" y="619" width="4" height="1" fill="#fff" />
<rect x="389" y="625.5" width="4" height="1" fill="#fff" />
<rect x="390" y="627.5" width="2" height="2.5" fill="#fff" />
<rect x="388" y="613" width="7" height="1" fill="#000" />
<rect x="394" y="613" width="1" height="19" fill="#000" />
<rect x="399.5" y="613" width="5" height="19" fill="#000" />
<rect x="400.5" y="619" width="4" height="1" fill="#fff" />
<rect x="400.5" y="625.5" width="4" height="1" fill="#fff" />
<rect x="401.5" y="627.5" width="2" height="2.5" fill="#fff" />
<rect x="410.5" y="613" width="6" height="19" fill="#000" />
<rect x="411.5" y="619" width="5" height="1" fill="#fff" />
<rect x="411.5" y="625.5" width="5" height="1" fill="#fff" />
<rect x="412.5" y="627.5" width="3" height="2.5" fill="#fff" />
<rect x="421" y="613" width="6" height="19" fill="#000" />
<rect x="422" y="619" width="5" height="1" fill="#fff" />
<rect x="422" y="625.5" width="5" height="1" fill="#fff" />
<rect x="423" y="627.5" width="3" height="2.5" fill="#fff" />
<rect x="434" y="613" width="5" height="19" fill="#000" />
<rect x="435" y="619" width="4" height="1" fill="#fff" />
<rect x="435" y="625.5" width="4" height="1" fill="#fff" />
<rect x="436" y="627.5" width="2" height="2.5" fill="#fff" />
<rect x="434" y="613" width="7" height="1" fill="#000" />
<rect x="440" y="613" width="1" height="19" fill="#000" />
<rect x="571" y="586" width="13" height="13" fill="#000" />
<rect x="572" y="592" width="11" height="1" fill="#fff" />
<rect x="577.5" y="587" width="1" height="11" fill="#fff" />
<rect x="573" y="594" width="4" height="3.5" fill="#fff" />
<rect x="574" y="595" width="2" height="1.5" fill="#000" />
<path d="M585.5,598.3 L586.4,597.5 L588.2,597.5 L589.1,598.3 L589.1,599.9 L588.2,600.7 L587.3,600.7M588.2,600.7 L589.1,601.5 L589.1,603.9 L588.2,604.7 L586.4,604.7 L585.5,603.9" class="t"/>
<rect x="86" y="610" width="13" height="6.5" fill="#000" />
<rect x="90.5" y="611" width="1" height="5" fill="#fff" />
<rect x="95" y="611" width="1" height="5" fill="#fff" />
<rect x="73" y="616" width="26" height="7" fill="#000" />
<rect x="74" y="617" width="5" height="5" fill="#fff" />
<rect x="75.5" y="618.5" width="2" height="2" fill="#000" />
<rect x="78.5" y="617" width="1" height="5" fill="#fff" />
<rect x="83.7" y="617" width="1" height="5" fill="#fff" />
<rect x="88.9" y="617" width="1" height="5" fill="#fff" />
<rect x="94.1" y="617" width="1" height="5" fill="#fff" />
<rect x="659" y="53" width="112" height="24" fill="#000" />
<rect x="660" y="54" width="110" height="22" fill="#fff" />
<rect x="659" y="60" width="112" height="1" fill="#000" />
<rect x="661.2" y="57" width="7" height="2.4" fill="#000" />
<rect x="663" y="56" width="3.4" height="4" fill="#000" />
<rect x="661.2" y="63" width="7" height="3" fill="#000" />
<rect x="670.445" y="57" width="7" height="2.4" fill="#000" />
<rect x="672.245" y="56" width="3.4" height="4" fill="#000" />
<rect x="670.445" y="63" width="7" height="3" fill="#000" />
<rect x="679.691" y="57" width="7" height="2.4" fill="#000" />
<rect x="681.491" y="56" width="3.4" height="4" fill="#000" />
<rect x="679.691" y="63" width="7" height="3" fill="#000" />
<rect x="688.936" y="57" width="7" height="2.4" fill="#000" />
<rect x="690.736" y="56" width="3.4" height="4" fill="#000" />
<rect x="688.936" y="63" width="7" height="3" fill="#000" />
<rect x="698.182" y="57" width="7" height="2.4" fill="#000" />
<rect x="699.982" y="56" width="3.4" height="4" fill="#000" />
<rect x="698.182" y="63" width="7" height="3" fill="#000" />
<rect x="707.427" y="57" width="7" height="2.4" fill="#000" />
<rect x="709.227" y="56" width="3.4" height="4" fill="#000" />
<rect x="707.427" y="63" width="7" height="3" fill="#000" />
<rect x="716.673" y="57" width="7" height="2.4" fill="#000" />
<rect x="718.473" y="56" width="3.4" height="4" fill="#000" />
<rect x="716.673" y="63" width="7" height="3" fill="#000" />
<rect x="725.918" y="57" width="7" height="2.4" fill="#000" />
<rect x="727.718" y="56" width="3.4" height="4" fill="#000" />
<rect x="725.918" y="63" width="7" height="3" fill="#000" />
<rect x="735.164" y="57" width="7" height="2.4" fill="#000" />
<rect x="736.964" y="56" width="3.4" height="4" fill="#000" />
<rect x="735.164" y="63" width="7" height="3" fill="#000" />
<rect x="744.409" y="57" width="7" height="2.4" fill="#000" />
<rect x="746.209" y="56" width="3.4" height="4" fill="#000" />
<rect x="744.409" y="63" width="7" height="3" fill="#000" />
<rect x="753.655" y="57" width="7" height="2.4" fill="#000" />
<rect x="755.455" y="56" width="3.4" height="4" fill="#000" />
<rect x="753.655" y="63" width="7" height="3" fill="#000" />
<rect x="762.9" y="57" width="7" height="2.4" fill="#000" />
<rect x="764.7" y="56" width="3.4" height="4" fill="#000" />
<rect x="762.9" y="63" width="7" height="3" fill="#000" />
<rect x="664.9" y="67" width="7" height="7" fill="#000" />
<rect x="665.9" y="68" width="5" height="5" fill="#fff" />
<rect x="674.32" y="67" width="7" height="7" fill="#000" />
<rect x="675.32" y="68" width="5" height="5" fill="#fff" />
<rect x="683.74" y="67" width="7" height="7" fill="#000" />
<rect x="684.74" y="68" width="5" height="5" fill="#fff" />
<rect x="693.16" y="67" width="7" height="7" fill="#000" />
<rect x="694.16" y="68" width="5" height="5" fill="#fff" />
<rect x="702.58" y="67" width="7" height="7" fill="#000" />
<rect x="703.58" y="68" width="5" height="5" fill="#fff" />
<rect x="712" y="67" width="7" height="7" fill="#000" />
<rect x="713" y="68" width="5" height="5" fill="#fff" />
<rect x="721.42" y="67" width="7" height="7" fill="#000" />
<rect x="722.42" y="68" width="5" height="5" fill="#fff" />
<rect x="730.84" y="67" width="7" height="7" fill="#000" />
<rect x="731.84" y="68" width="5" height="5" fill="#fff" />
<rect x="740.26" y="67" width="7" height="7" fill="#000" />
<rect x="741.26" y="68" width="5" height="5" fill="#fff" />
<rect x="749.68" y="67" width="7" height="7" fill="#000" />
<rect x="750.68" y="68" width="5" height="5" fill="#fff" />
<rect x="759.1" y="67" width="7" height="7" fill="#000" />
<rect x="760.1" y="68" width="5" height="5" fill="#fff" />
<rect x="659" y="67" width="3.5" height="7.5" fill="#000" />
<rect x="659" y="69" width="2.5" height="1.5" fill="#fff" />
<rect x="660" y="72" width="1.8" height="1" fill="#fff" />
<rect x="767" y="67" width="4" height="7.5" fill="#000" />
<rect x="768" y="68" width="2" height="2" fill="#fff" />
<rect x="769" y="71" width="1" height="2.5" fill="#fff" />
<rect x="663" y="582" width="113" height="24.5" fill="#000" />
<rect x="664" y="583" width="111" height="22.5" fill="#fff" />
<rect x="663" y="589" width="113" height="1" fill="#000" />
<rect x="665.5" y="586" width="6.7" height="3" fill="#000" />
<rect x="666.5" y="587" width="4.7" height="1" fill="#fff" />
<rect x="667.2" y="588.5" width="3.3" height="1.5" fill="#000" />
<rect x="665.5" y="593" width="6.7" height="2" fill="#000" />
<rect x="674.836" y="586" width="6.7" height="3" fill="#000" />
<rect x="675.836" y="587" width="4.7" height="1" fill="#fff" />
<rect x="676.536" y="588.5" width="3.3" height="1.5" fill="#000" />
<rect x="674.836" y="593" width="6.7" height="2" fill="#000" />
<rect x="684.173" y="586" width="6.7" height="3" fill="#000" />
<rect x="685.173" y="587" width="4.7" height="1" fill="#fff" />
<rect x="685.873" y="588.5" width="3.3" height="1.5" fill="#000" />
<rect x="684.173" y="593" width="6.7" height="2" fill="#000" />
<rect x="693.509" y="586" width="6.7" height="3" fill="#000" />
<rect x="694.509" y="587" width="4.7" height="1" fill="#fff" />
<rect x="695.209" y="588.5" width="3.3" height="1.5" fill="#000" />
<rect x="693.509" y="593" width="6.7" height="2" fill="#000" />
<rect x="702.845" y="586" width="6.7" height="3" fill="#000" />
<rect x="703.845" y="587" width="4.7" height="1" fill="#fff" />
<rect x="704.545" y="588.5" width="3.3" height="1.5" fill="#000" />
<rect x="702.845" y="593" width="6.7" height="2" fill="#000" />
<rect x="712.182" y="586" width="6.7" height="3" fill="#000" />
<rect x="713.182" y="587" width="4.7" height="1" fill="#fff" />
<rect x="713.882" y="588.5" width="3.3" height="1.5" fill="#000" />
<rect x="712.182" y="593" width="6.7" height="2" fill="#000" />
<rect x="721.518" y="586" width="6.7" height="3" fill="#000" />
<rect x="722.518" y="587" width="4.7" height="1" fill="#fff" />
<rect x="723.218" y="588.5" width="3.3" height="1.5" fill="#000" />
<rect x="721.518" y="593" width="6.7" height="2" fill="#000" />
<rect x="730.855" y="586" width="6.7" height="3" fill="#000" />
<rect x="731.855" y="587" width="4.7" height="1" fill="#fff" />
<rect x="732.555" y="588.5" width="3.3" height="1.5" fill="#000" />
<rect x="730.855" y="593" width="6.7" height="2" fill="#000" />
<rect x="740.191" y="586" width="6.7" height="3" fill="#000" />
<rect x="741.191" y="587" width="4.7" height="1" fill="#fff" />
<rect x="741.891" y="588.5" width="3.3" height="1.5" fill="#000" />
<rect x="740.191" y="593" width="6.7" height="2" fill="#000" />
<rect x="749.527" y="586" width="6.7" height="3" fill="#000" />
<rect x="750.527" y="587" width="4.7" height="1" fill="#fff" />
<rect x="751.227" y="588.5" width="3.3" height="1.5" fill="#000" />
<rect x="749.527" y="593" width="6.7" height="2" fill="#000" />
<rect x="758.864" y="586" width="6.7" height="3" fill="#000" />
<rect x="759.864" y="587" width="4.7" height="1" fill="#fff" />
<rect x="760.564" y="588.5" width="3.3" height="1.5" fill="#000" />
<rect x="758.864" y="593" width="6.7" height="2" fill="#000" />
<rect x="768.2" y="586" width="6.7" height="3" fill="#000" />
<rect x="769.2" y="587" width="4.7" height="1" fill="#fff" />
<rect x="769.9" y="588.5" width="3.3" height="1.5" fill="#000" />
<rect x="768.2" y="593" width="6.7" height="2" fill="#000" />
<rect x="668.9" y="596" width="7" height="7" fill="#000" />
<rect x="669.9" y="597" width="5" height="5" fill="#fff" />
<rect x="678.42" y="596" width="7" height="7" fill="#000" />
<rect x="679.42" y="597" width="5" height="5" fill="#fff" />
<rect x="687.94" y="596" width="7" height="7" fill="#000" />
<rect x="688.94" y="597" width="5" height="5" fill="#fff" />
<rect x="697.46" y="596" width="7" height="7" fill="#000" />
<rect x="698.46" y="597" width="5" height="5" fill="#fff" />
<rect x="706.98" y="596" width="7" height="7" fill="#000" />
<rect x="707.98" y="597" width="5" height="5" fill="#fff" />
<rect x="716.5" y="596" width="7" height="7" fill="#000" />
<rect x="717.5" y="597" width="5" height="5" fill="#fff" />
<rect x="726.02" y="596" width="7" height="7" fill="#000" />
<rect x="727.02" y="597" width="5" height="5" fill="#fff" />
<rect x="735.54" y="596" width="7" height="7" fill="#000" />
<rect x="736.54" y="597" width="5" height="5" fill="#fff" />
<rect x="745.06" y="596" width="7" height="7" fill="#000" />
<rect x="746.06" y="597" width="5" height="5" fill="#fff" />
<rect x="754.58" y="596" width="7" height="7" fill="#000" />
<rect x="755.58" y="597" width="5" height="5" fill="#fff" />
<rect x="764.1" y="596" width="7" height="7" fill="#000" />
<rect x="765.1" y="597" width="5" height="5" fill="#fff" />
<rect x="663" y="596" width="3.5" height="7.5" fill="#000" />
<rect x="663" y="598" width="2.5" height="1.5" fill="#fff" />
<rect x="664" y="601" width="1.8" height="1" fill="#fff" />
<rect x="772" y="596" width="4" height="7.5" fill="#000" />
<rect x="773" y="597" width="2" height="2" fill="#fff" />
<rect x="774" y="600" width="1" height="2.5" fill="#fff" />
<rect x="787" y="620" width="31" height="37" fill="#000" />
<rect x="784" y="626" width="3" height="25" fill="#000" />
<rect x="811" y="615" width="7" height="47" fill="#000" />
<rect x="814" y="613" width="4" height="51" fill="#000" />
<rect x="780" y="628" width="5" height="9" fill="#000" />
<rect x="781" y="629" width="3" height="7" fill="#fff" />
<rect x="780" y="640" width="5" height="9" fill="#000" />
<rect x="781" y="641" width="3" height="7" fill="#fff" />
<rect x="786" y="636" width="1" height="5" fill="#fff" />
<polygon points="425,57.25 441,60.2 441,61.8 425,64.25" fill="#000" shape-rendering="geometricPrecision"/>
<rect x="383.2" y="51.1" width="43" height="20.1" rx="3.8" fill="#000" shape-rendering="geometricPrecision"/>
<rect x="385.3" y="53.1" width="38.7" height="15.4" rx="2.2" fill="#fff" shape-rendering="geometricPrecision"/>
<polygon points="423.5,58.85 431.375,60.8 431.375,61.2 423.5,62.65" fill="#fff" shape-rendering="geometricPrecision"/>
<path d="M388.5,66.5 L388.5,57.5 L392.5,57.5 L393.5,58.5 L393.5,60.5 L392.5,61.5 L388.5,61.5" class="t"/>
<path d="M400.5,57.5 L400.5,65.5 L399.5,66.5 L397.5,66.5 L396.5,65.5 L396.5,64.5" class="t"/>
<path d="M404.5,58.5 L405.5,57.5 L407.5,57.5 L408.5,58.5 L408.5,60.5 L404.5,66.5 L408.5,66.5" class="t"/>
<path d="M411.5,66.5 L414.5,57.5 L417.5,66.5M412.5,63.5 L416.5,63.5" class="t"/>
<polygon points="767,234.5 777,237.6 783,238 783,240 777,240.6 767,244" fill="#000" shape-rendering="geometricPrecision"/>
<polygon points="769,237.5 776,238.7 776,239.3 769,240.7" fill="#fff" shape-rendering="geometricPrecision"/>
<rect x="727" y="233" width="42" height="13" fill="#000" />
<rect x="728" y="233" width="39" height="13" fill="#fff" />
<path d="M736.5,235.5 L736.5,243.5 L735.5,244.5 L733.5,244.5 L732.5,243.5 L732.5,242.5" class="t"/>
<path d="M739.5,244.5 L739.5,235.5 L743.5,235.5 L744.5,236.5 L744.5,238.5 L743.5,239.5 L739.5,239.5" class="t"/>
<path d="M748.5,236.5 L749.5,235.5 L751.5,235.5 L752.5,236.5 L752.5,238.5 L748.5,244.5 L752.5,244.5" class="t"/>
<path d="M757.5,235.5 L759.5,237.5 L759.5,242.5 L757.5,244.5 L755.5,242.5 L755.5,237.5 L757.5,235.5" class="t"/>
<polygon points="69.5,321 72.2,338 73.8,338 76.5,321" fill="#000" shape-rendering="geometricPrecision"/>
<rect x="60.2" y="302.1" width="27" height="20.6" rx="3.8" fill="#000" shape-rendering="geometricPrecision"/>
<rect x="62.3" y="304.1" width="22.7" height="15.9" rx="2.2" fill="#fff" shape-rendering="geometricPrecision"/>
<polygon points="71.1,319.5 72.8,326.9 73.2,326.9 74.9,319.5" fill="#fff" shape-rendering="geometricPrecision"/>
<path d="M70.5,308.5 L70.5,316.5 L69.5,317.5 L67.5,317.5 L66.5,316.5 L66.5,315.5" class="t"/>
<path d="M76.5,317.5 L76.5,308.5 L73.5,314.5 L77.5,314.5" class="t"/>
<polygon points="72,377 74.7,359 76.3,359 79,377" fill="#000" shape-rendering="geometricPrecision"/>
<rect x="63.2" y="375.1" width="26" height="18.1" rx="3.8" fill="#000" shape-rendering="geometricPrecision"/>
<rect x="65.3" y="377.1" width="21.7" height="13.4" rx="2.2" fill="#fff" shape-rendering="geometricPrecision"/>
<polygon points="73.6,377.5 75.3,370.1 75.7,370.1 77.4,377.5" fill="#fff" shape-rendering="geometricPrecision"/>
<path d="M73.5,379.5 L73.5,387.5 L72.5,388.5 L70.5,388.5 L69.5,387.5 L69.5,386.5" class="t"/>
<path d="M80.5,379.5 L76.5,379.5 L76.5,383.5 L79.5,383.5 L80.5,384.5 L80.5,387.5 L79.5,388.5 L77.5,388.5 L76.5,387.5" class="t"/>
<polygon points="67.5,422 70.2,405 71.8,405 74.5,422" fill="#000" shape-rendering="geometricPrecision"/>
<rect x="53.2" y="420.1" width="35" height="20.6" rx="3.8" fill="#000" shape-rendering="geometricPrecision"/>
<rect x="55.3" y="422.1" width="30.7" height="15.9" rx="2.2" fill="#fff" shape-rendering="geometricPrecision"/>
<polygon points="69.1,422.5 70.8,415.5 71.2,415.5 72.9,422.5" fill="#fff" shape-rendering="geometricPrecision"/>
<path d="M63.5,426.5 L63.5,434.5 L62.5,435.5 L60.5,435.5 L59.5,434.5 L59.5,433.5" class="t"/>
<path d="M66.5,435.5 L66.5,426.5 L70.5,426.5 L71.5,427.5 L71.5,429.5 L70.5,430.5 L66.5,430.5" class="t"/>
<path d="M76.5,428.5 L78.5,426.5 L78.5,435.5" class="t"/>
<polygon points="355,371 340,374.2 340,375.8 355,378" fill="#000" shape-rendering="geometricPrecision"/>
<rect x="353.2" y="365.1" width="36" height="19.6" rx="3.8" fill="#000" shape-rendering="geometricPrecision"/>
<rect x="355.3" y="367.1" width="31.7" height="14.9" rx="2.2" fill="#fff" shape-rendering="geometricPrecision"/>
<polygon points="355.5,372.6 348.525,374.8 348.525,375.2 355.5,376.4" fill="#fff" shape-rendering="geometricPrecision"/>
<path d="M364.5,370.5 L364.5,378.5 L363.5,379.5 L361.5,379.5 L360.5,378.5 L360.5,377.5" class="t"/>
<path d="M367.5,379.5 L367.5,370.5 L371.5,370.5 L372.5,371.5 L372.5,373.5 L371.5,374.5 L367.5,374.5" class="t"/>
<path d="M380.5,373.5 L379.5,375.5 L377.5,375.5 L376.5,374.5 L376.5,371.5 L377.5,370.5 L379.5,370.5 L380.5,371.5 L380.5,377.5 L378.5,379.5 L377.5,379.5" class="t"/>
<polygon points="183.5,454.75 199.5,457.7 199.5,459.3 183.5,461.75" fill="#000" shape-rendering="geometricPrecision"/>
<rect x="147.2" y="448.6" width="37.5" height="20.1" rx="3.8" fill="#000" shape-rendering="geometricPrecision"/>
<rect x="149.3" y="450.6" width="33.2" height="15.4" rx="2.2" fill="#fff" shape-rendering="geometricPrecision"/>
<polygon points="182,456.35 189.875,458.3 189.875,458.7 182,460.15" fill="#fff" shape-rendering="geometricPrecision"/>
<path d="M158.5,454.5 L158.5,462.5 L157.5,463.5 L155.5,463.5 L154.5,462.5 L154.5,461.5" class="t"/>
<path d="M161.5,463.5 L161.5,454.5 L165.5,454.5 L166.5,455.5 L166.5,457.5 L165.5,458.5 L161.5,458.5" class="t"/>
<path d="M174.5,455.5 L173.5,454.5 L171.5,454.5 L170.5,455.5 L170.5,462.5 L171.5,463.5 L173.5,463.5 L174.5,462.5 L174.5,459.5 L173.5,458.5 L171.5,458.5 L170.5,459.5" class="t"/>
<polygon points="236,455 220,457.7 220,459.3 236,462" fill="#000" shape-rendering="geometricPrecision"/>
<rect x="234.2" y="449.1" width="37" height="19.6" rx="3.8" fill="#000" shape-rendering="geometricPrecision"/>
<rect x="236.3" y="451.1" width="32.7" height="14.9" rx="2.2" fill="#fff" shape-rendering="geometricPrecision"/>
<polygon points="236.5,456.6 229.075,458.3 229.075,458.7 236.5,460.4" fill="#fff" shape-rendering="geometricPrecision"/>
<path d="M245.5,454.5 L245.5,462.5 L244.5,463.5 L242.5,463.5 L241.5,462.5 L241.5,461.5" class="t"/>
<path d="M248.5,463.5 L248.5,454.5 L252.5,454.5 L253.5,455.5 L253.5,457.5 L252.5,458.5 L248.5,458.5" class="t"/>
<path d="M257.5,454.5 L261.5,454.5 L258.5,463.5" class="t"/>
<polygon points="764,495 780,498.2 780,499.8 764,502" fill="#000" shape-rendering="geometricPrecision"/>
<rect x="722.2" y="489.1" width="43" height="19.6" rx="3.8" fill="#000" shape-rendering="geometricPrecision"/>
<rect x="724.3" y="491.1" width="38.7" height="14.9" rx="2.2" fill="#fff" shape-rendering="geometricPrecision"/>
<polygon points="762.5,496.6 770.375,498.8 770.375,499.2 762.5,500.4" fill="#fff" shape-rendering="geometricPrecision"/>
<path d="M732.5,494.5 L732.5,502.5 L731.5,503.5 L729.5,503.5 L728.5,502.5 L728.5,501.5" class="t"/>
<path d="M736.5,496.5 L738.5,494.5 L738.5,503.5" class="t"/>
<path d="M744.5,496.5 L746.5,494.5 L746.5,503.5" class="t"/>
<path d="M750.5,494.5 L750.5,503.5 L754.5,503.5 L755.5,502.5 L755.5,499.5 L754.5,498.5 L750.5,498.5M750.5,494.5 L754.5,494.5 L755.5,495.5 L755.5,497.5 L754.5,498.5" class="t"/>
<polygon points="69.5,555.5 72.2,573.5 73.8,573.5 76.5,555.5" fill="#000" shape-rendering="geometricPrecision"/>
<rect x="56.7" y="537.6" width="34" height="19.6" rx="3.8" fill="#000" shape-rendering="geometricPrecision"/>
<rect x="58.8" y="539.6" width="29.7" height="14.9" rx="2.2" fill="#fff" shape-rendering="geometricPrecision"/>
<polygon points="71.1,554 72.8,561.8 73.2,561.8 74.9,554" fill="#fff" shape-rendering="geometricPrecision"/>
<path d="M67.5,543.5 L67.5,551.5 L66.5,552.5 L64.5,552.5 L63.5,551.5 L63.5,550.5" class="t"/>
<path d="M73.5,552.5 L73.5,543.5 L70.5,549.5 L74.5,549.5" class="t"/>
<path d="M79.5,545.5 L81.5,543.5 L81.5,552.5" class="t"/>
<polygon points="115,593.25 99,595.7 99,597.3 115,600.25" fill="#000" shape-rendering="geometricPrecision"/>
<rect x="113.2" y="587.1" width="36.5" height="20.1" rx="3.8" fill="#000" shape-rendering="geometricPrecision"/>
<rect x="115.3" y="589.1" width="32.2" height="15.4" rx="2.2" fill="#fff" shape-rendering="geometricPrecision"/>
<polygon points="115.5,594.85 108.075,596.3 108.075,596.7 115.5,598.65" fill="#fff" shape-rendering="geometricPrecision"/>
<path d="M124.5,593.5 L124.5,601.5 L123.5,602.5 L121.5,602.5 L120.5,601.5 L120.5,600.5" class="t"/>
<path d="M127.5,594.5 L128.5,593.5 L130.5,593.5 L131.5,594.5 L131.5,596.5 L130.5,597.5 L129.5,597.5M130.5,597.5 L131.5,598.5 L131.5,601.5 L130.5,602.5 L128.5,602.5 L127.5,601.5" class="t"/>
<path d="M139.5,596.5 L138.5,598.5 L136.5,598.5 L135.5,597.5 L135.5,594.5 L136.5,593.5 L138.5,593.5 L139.5,594.5 L139.5,600.5 L137.5,602.5 L136.5,602.5" class="t"/>
<polygon points="114,615.25 99,618.7 99,620.3 114,622.25" fill="#000" shape-rendering="geometricPrecision"/>
<rect x="112.2" y="609.1" width="37" height="20.1" rx="3.8" fill="#000" shape-rendering="geometricPrecision"/>
<rect x="114.3" y="611.1" width="32.7" height="15.4" rx="2.2" fill="#fff" shape-rendering="geometricPrecision"/>
<polygon points="114.5,616.85 107.525,619.3 107.525,619.7 114.5,620.65" fill="#fff" shape-rendering="geometricPrecision"/>
<path d="M124.5,615.5 L124.5,623.5 L123.5,624.5 L121.5,624.5 L120.5,623.5 L120.5,622.5" class="t"/>
<path d="M127.5,616.5 L128.5,615.5 L130.5,615.5 L131.5,616.5 L131.5,618.5 L130.5,619.5 L129.5,619.5M130.5,619.5 L131.5,620.5 L131.5,623.5 L130.5,624.5 L128.5,624.5 L127.5,623.5" class="t"/>
<path d="M136.5,615.5 L138.5,615.5 L139.5,616.5 L139.5,618.5 L138.5,619.5 L136.5,619.5 L135.5,618.5 L135.5,616.5 L136.5,615.5M136.5,619.5 L135.5,620.5 L135.5,623.5 L136.5,624.5 L138.5,624.5 L139.5,623.5 L139.5,620.5 L138.5,619.5" class="t"/>
<polygon points="115,634.5 99,636.2 99,637.8 115,641.5" fill="#000" shape-rendering="geometricPrecision"/>
<rect x="113.2" y="628.6" width="42.5" height="19.6" rx="3.8" fill="#000" shape-rendering="geometricPrecision"/>
<rect x="115.3" y="630.6" width="38.2" height="14.9" rx="2.2" fill="#fff" shape-rendering="geometricPrecision"/>
<polygon points="115.5,636.1 108.075,636.8 108.075,637.2 115.5,639.9" fill="#fff" shape-rendering="geometricPrecision"/>
<path d="M123.5,634.5 L123.5,642.5 L122.5,643.5 L120.5,643.5 L119.5,642.5 L119.5,641.5" class="t"/>
<path d="M127.5,636.5 L129.5,634.5 L129.5,643.5" class="t"/>
<path d="M135.5,636.5 L137.5,634.5 L137.5,643.5" class="t"/>
<path d="M141.5,643.5 L144.5,634.5 L147.5,643.5M142.5,640.5 L146.5,640.5" class="t"/>
<polygon points="70,608.75 87,612.2 87,613.8 70,615.75" fill="#000" shape-rendering="geometricPrecision"/>
<rect x="35.2" y="603.1" width="36" height="19.1" rx="3.8" fill="#000" shape-rendering="geometricPrecision"/>
<rect x="37.3" y="605.1" width="31.7" height="14.4" rx="2.2" fill="#fff" shape-rendering="geometricPrecision"/>
<polygon points="68.5,610.35 76.825,612.8 76.825,613.2 68.5,614.15" fill="#fff" shape-rendering="geometricPrecision"/>
<path d="M46.5,608.5 L46.5,616.5 L45.5,617.5 L43.5,617.5 L42.5,616.5 L42.5,615.5" class="t"/>
<path d="M52.5,617.5 L52.5,608.5 L49.5,614.5 L53.5,614.5" class="t"/>
<path d="M59.5,608.5 L61.5,610.5 L61.5,615.5 L59.5,617.5 L57.5,615.5 L57.5,610.5 L59.5,608.5" class="t"/>
<polygon points="341,619.25 356,621.7 356,623.3 341,626.25" fill="#000" shape-rendering="geometricPrecision"/>
<rect x="315.7" y="613.1" width="26.5" height="20.1" rx="3.8" fill="#000" shape-rendering="geometricPrecision"/>
<rect x="317.8" y="615.1" width="22.2" height="15.4" rx="2.2" fill="#fff" shape-rendering="geometricPrecision"/>
<polygon points="339.5,620.85 346.925,622.3 346.925,622.7 339.5,624.65" fill="#fff" shape-rendering="geometricPrecision"/>
<path d="M321.5,628.5 L321.5,619.5 L325.5,619.5 L326.5,620.5 L326.5,622.5 L325.5,623.5 L321.5,623.5" class="t"/>
<path d="M330.5,621.5 L332.5,619.5 L332.5,628.5" class="t"/>
<polygon points="457,618.75 441,621.7 441,623.3 457,625.75" fill="#000" shape-rendering="geometricPrecision"/>
<rect x="455.2" y="613.6" width="26" height="18.1" rx="3.8" fill="#000" shape-rendering="geometricPrecision"/>
<rect x="457.3" y="615.6" width="21.7" height="13.4" rx="2.2" fill="#fff" shape-rendering="geometricPrecision"/>
<polygon points="457.5,620.35 450.075,622.3 450.075,622.7 457.5,624.15" fill="#fff" shape-rendering="geometricPrecision"/>
<path d="M465.5,617.5 L465.5,625.5 L464.5,626.5 L462.5,626.5 L461.5,625.5 L461.5,624.5" class="t"/>
<path d="M469.5,619.5 L471.5,617.5 L471.5,626.5" class="t"/>
<polygon points="326,656.25 341,659.7 341,661.3 326,663.25" fill="#000" shape-rendering="geometricPrecision"/>
<rect x="290.2" y="650.1" width="37" height="20.1" rx="3.8" fill="#000" shape-rendering="geometricPrecision"/>
<rect x="292.3" y="652.1" width="32.7" height="15.4" rx="2.2" fill="#fff" shape-rendering="geometricPrecision"/>
<polygon points="324.5,657.85 331.925,660.3 331.925,660.7 324.5,661.65" fill="#fff" shape-rendering="geometricPrecision"/>
<path d="M297.5,665.5 L297.5,656.5 L301.5,656.5 L302.5,657.5 L302.5,659.5 L301.5,660.5 L297.5,660.5" class="t"/>
<path d="M309.5,656.5 L309.5,664.5 L308.5,665.5 L306.5,665.5 L305.5,664.5 L305.5,663.5" class="t"/>
<path d="M317.5,656.5 L313.5,656.5 L313.5,660.5 L316.5,660.5 L317.5,661.5 L317.5,664.5 L316.5,665.5 L314.5,665.5 L313.5,664.5" class="t"/>
<polygon points="555.5,589.25 571,591.7 571,593.3 555.5,596.25" fill="#000" shape-rendering="geometricPrecision"/>
<rect x="520.2" y="583.6" width="36.5" height="19.1" rx="3.8" fill="#000" shape-rendering="geometricPrecision"/>
<rect x="522.3" y="585.6" width="32.2" height="14.4" rx="2.2" fill="#fff" shape-rendering="geometricPrecision"/>
<polygon points="554,590.85 561.65,592.3 561.65,592.7 554,594.65" fill="#fff" shape-rendering="geometricPrecision"/>
<path d="M527.5,597.5 L527.5,588.5 L531.5,588.5 L532.5,589.5 L532.5,591.5 L531.5,592.5 L527.5,592.5" class="t"/>
<path d="M539.5,588.5 L539.5,596.5 L538.5,597.5 L536.5,597.5 L535.5,596.5 L535.5,595.5" class="t"/>
<path d="M547.5,589.5 L546.5,588.5 L544.5,588.5 L543.5,589.5 L543.5,596.5 L544.5,597.5 L546.5,597.5 L547.5,596.5 L547.5,593.5 L546.5,592.5 L544.5,592.5 L543.5,593.5" class="t"/>
<polygon points="641,610.5 622,613.7 622,615.3 641,617.5" fill="#000" shape-rendering="geometricPrecision"/>
<rect x="639.2" y="605.1" width="30" height="18.6" rx="3.8" fill="#000" shape-rendering="geometricPrecision"/>
<rect x="641.3" y="607.1" width="25.7" height="13.9" rx="2.2" fill="#fff" shape-rendering="geometricPrecision"/>
<polygon points="641.5,612.1 632.725,614.3 632.725,614.7 641.5,615.9" fill="#fff" shape-rendering="geometricPrecision"/>
<path d="M642.5,618.5 L642.5,609.5 L646.5,609.5 L647.5,610.5 L647.5,612.5 L646.5,613.5 L642.5,613.5" class="t"/>
<path d="M650.5,618.5 L650.5,609.5 L654.5,609.5 L655.5,610.5 L655.5,612.5 L654.5,613.5 L650.5,613.5M652.5,613.5 L655.5,618.5" class="t"/>
<path d="M660.5,611.5 L662.5,609.5 L662.5,618.5" class="t"/>
<polygon points="529,636.5 531.7,654 533.3,654 536,636.5" fill="#000" shape-rendering="geometricPrecision"/>
<rect x="516.2" y="619.1" width="33.5" height="19.1" rx="3.8" fill="#000" shape-rendering="geometricPrecision"/>
<rect x="518.3" y="621.1" width="29.2" height="14.4" rx="2.2" fill="#fff" shape-rendering="geometricPrecision"/>
<polygon points="530.6,635 532.3,642.6 532.7,642.6 534.4,635" fill="#fff" shape-rendering="geometricPrecision"/>
<path d="M521.5,633.5 L521.5,624.5 L525.5,624.5 L526.5,625.5 L526.5,627.5 L525.5,628.5 L521.5,628.5" class="t"/>
<path d="M533.5,624.5 L533.5,632.5 L532.5,633.5 L530.5,633.5 L529.5,632.5 L529.5,631.5" class="t"/>
<path d="M538.5,626.5 L540.5,624.5 L540.5,633.5" class="t"/>
<polygon points="585.5,636.5 588.2,654 589.8,654 592.5,636.5" fill="#000" shape-rendering="geometricPrecision"/>
<rect x="573.2" y="619.1" width="34" height="19.1" rx="3.8" fill="#000" shape-rendering="geometricPrecision"/>
<rect x="575.3" y="621.1" width="29.7" height="14.4" rx="2.2" fill="#fff" shape-rendering="geometricPrecision"/>
<polygon points="587.1,635 588.8,642.6 589.2,642.6 590.9,635" fill="#fff" shape-rendering="geometricPrecision"/>
<path d="M579.5,633.5 L579.5,624.5 L583.5,624.5 L584.5,625.5 L584.5,627.5 L583.5,628.5 L579.5,628.5" class="t"/>
<path d="M591.5,624.5 L591.5,632.5 L590.5,633.5 L588.5,633.5 L587.5,632.5 L587.5,631.5" class="t"/>
<path d="M595.5,625.5 L596.5,624.5 L598.5,624.5 L599.5,625.5 L599.5,627.5 L595.5,633.5 L599.5,633.5" class="t"/>
<polygon points="677.5,636.5 680.2,654 681.8,654 684.5,636.5" fill="#000" shape-rendering="geometricPrecision"/>
<rect x="664.7" y="619.1" width="34.5" height="19.1" rx="3.8" fill="#000" shape-rendering="geometricPrecision"/>
<rect x="666.8" y="621.1" width="30.2" height="14.4" rx="2.2" fill="#fff" shape-rendering="geometricPrecision"/>
<polygon points="679.1,635 680.8,642.6 681.2,642.6 682.9,635" fill="#fff" shape-rendering="geometricPrecision"/>
<path d="M670.5,633.5 L670.5,624.5 L674.5,624.5 L675.5,625.5 L675.5,627.5 L674.5,628.5 L670.5,628.5" class="t"/>
<path d="M682.5,624.5 L682.5,632.5 L681.5,633.5 L679.5,633.5 L678.5,632.5 L678.5,631.5" class="t"/>
<path d="M686.5,625.5 L687.5,624.5 L689.5,624.5 L690.5,625.5 L690.5,627.5 L689.5,628.5 L688.5,628.5M689.5,628.5 L690.5,629.5 L690.5,632.5 L689.5,633.5 L687.5,633.5 L686.5,632.5" class="t"/>
<polygon points="715.5,636.5 718.2,654 719.8,654 722.5,636.5" fill="#000" shape-rendering="geometricPrecision"/>
<rect x="701.7" y="619.1" width="34.5" height="19.1" rx="3.8" fill="#000" shape-rendering="geometricPrecision"/>
<rect x="703.8" y="621.1" width="30.2" height="14.4" rx="2.2" fill="#fff" shape-rendering="geometricPrecision"/>
<polygon points="717.1,635 718.8,642.6 719.2,642.6 720.9,635" fill="#fff" shape-rendering="geometricPrecision"/>
<path d="M707.5,633.5 L707.5,624.5 L711.5,624.5 L712.5,625.5 L712.5,627.5 L711.5,628.5 L707.5,628.5" class="t"/>
<path d="M719.5,624.5 L719.5,632.5 L718.5,633.5 L716.5,633.5 L715.5,632.5 L715.5,631.5" class="t"/>
<path d="M726.5,633.5 L726.5,624.5 L723.5,630.5 L727.5,630.5" class="t"/>
<polygon points="376.5,595 379.2,613 380.8,613 383.5,595" fill="#000" shape-rendering="geometricPrecision"/>
<rect x="367.2" y="579.1" width="24.5" height="17.6" rx="3.8" fill="#000" shape-rendering="geometricPrecision"/>
<rect x="369.3" y="581.1" width="20.2" height="12.9" rx="2.2" fill="#fff" shape-rendering="geometricPrecision"/>
<polygon points="378.1,593.5 379.8,601.3 380.2,601.3 381.9,593.5" fill="#fff" shape-rendering="geometricPrecision"/>
<path d="M377.5,583.5 L376.5,582.5 L373.5,582.5 L372.5,583.5 L372.5,585.5 L373.5,586.5 L376.5,586.5 L377.5,587.5 L377.5,590.5 L376.5,591.5 L373.5,591.5 L372.5,590.5" class="t"/>
<path d="M380.5,583.5 L381.5,582.5 L383.5,582.5 L384.5,583.5 L384.5,585.5 L383.5,586.5 L382.5,586.5M383.5,586.5 L384.5,587.5 L384.5,590.5 L383.5,591.5 L381.5,591.5 L380.5,590.5" class="t"/>
<polygon points="410,594.5 412.7,613 414.3,613 417,594.5" fill="#000" shape-rendering="geometricPrecision"/>
<rect x="402.2" y="579.1" width="25.5" height="17.1" rx="3.8" fill="#000" shape-rendering="geometricPrecision"/>
<rect x="404.3" y="581.1" width="21.2" height="12.4" rx="2.2" fill="#fff" shape-rendering="geometricPrecision"/>
<polygon points="411.6,593 413.3,601 413.7,601 415.4,593" fill="#fff" shape-rendering="geometricPrecision"/>
<path d="M412.5,583.5 L411.5,582.5 L408.5,582.5 L407.5,583.5 L407.5,585.5 L408.5,586.5 L411.5,586.5 L412.5,587.5 L412.5,590.5 L411.5,591.5 L408.5,591.5 L407.5,590.5" class="t"/>
<path d="M417.5,582.5 L419.5,584.5 L419.5,589.5 L417.5,591.5 L415.5,589.5 L415.5,584.5 L417.5,582.5" class="t"/>
<polygon points="527.5,77 538.5,68 541.5,68 532.5,82" fill="#000" shape-rendering="geometricPrecision"/>
<polygon points="529,78.5 537,71.5 531.5,81" fill="#fff" shape-rendering="geometricPrecision"/>
<polygon points="493.5,76 532.5,76 532.5,92 491.5,92 491.5,78" fill="#000" shape-rendering="geometricPrecision"/>
<polygon points="494.5,78 531,78 531,92 493.5,92 493.5,79" fill="#fff" shape-rendering="geometricPrecision"/>
<path d="M497.5,90.5 L497.5,81.5 L501.5,81.5 L502.5,82.5 L502.5,84.5 L501.5,85.5 L497.5,85.5" class="t"/>
<path d="M509.5,81.5 L509.5,89.5 L508.5,90.5 L506.5,90.5 L505.5,89.5 L505.5,88.5" class="t"/>
<path d="M513.5,82.5 L514.5,81.5 L516.5,81.5 L517.5,82.5 L517.5,84.5 L516.5,85.5 L515.5,85.5M516.5,85.5 L517.5,86.5 L517.5,89.5 L516.5,90.5 L514.5,90.5 L513.5,89.5" class="t"/>
<path d="M520.5,90.5 L523.5,81.5 L526.5,90.5M521.5,87.5 L525.5,87.5" class="t"/>
<polygon points="577.5,76.5 589.5,68 592.5,68 582.5,81.5" fill="#000" shape-rendering="geometricPrecision"/>
<polygon points="579,78 588,71.5 581.5,80.5" fill="#fff" shape-rendering="geometricPrecision"/>
<polygon points="544,75.5 582.5,75.5 582.5,92 542,92 542,77.5" fill="#000" shape-rendering="geometricPrecision"/>
<polygon points="545,77.5 581,77.5 581,92 544,92 544,78.5" fill="#fff" shape-rendering="geometricPrecision"/>
<path d="M548.5,90.5 L548.5,81.5 L552.5,81.5 L553.5,82.5 L553.5,84.5 L552.5,85.5 L548.5,85.5" class="t"/>
<path d="M560.5,81.5 L560.5,89.5 L559.5,90.5 L557.5,90.5 L556.5,89.5 L556.5,88.5" class="t"/>
<path d="M567.5,90.5 L567.5,81.5 L564.5,87.5 L568.5,87.5" class="t"/>
<path d="M571.5,90.5 L574.5,81.5 L577.5,90.5M572.5,87.5 L576.5,87.5" class="t"/>
<polygon points="353,606 369,615 358,601" fill="#000" shape-rendering="geometricPrecision"/>
<rect x="334.7" y="590.1" width="25" height="18.1" rx="3.8" fill="#000" shape-rendering="geometricPrecision"/>
<rect x="336.8" y="592.1" width="20.7" height="13.4" rx="2.2" fill="#fff" shape-rendering="geometricPrecision"/>
<path d="M339.5,603.5 L339.5,594.5 L343.5,594.5 L344.5,595.5 L344.5,597.5 L343.5,598.5 L339.5,598.5" class="t"/>
<path d="M349.5,594.5 L351.5,596.5 L351.5,601.5 L349.5,603.5 L347.5,601.5 L347.5,596.5 L349.5,594.5" class="t"/>
<polygon points="437,603 425,616 442,607" fill="#000" shape-rendering="geometricPrecision"/>
<rect x="435.2" y="591.1" width="25" height="18.1" rx="3.8" fill="#000" shape-rendering="geometricPrecision"/>
<rect x="437.3" y="593.1" width="20.7" height="13.4" rx="2.2" fill="#fff" shape-rendering="geometricPrecision"/>
<path d="M444.5,595.5 L444.5,603.5 L443.5,604.5 L441.5,604.5 L440.5,603.5 L440.5,602.5" class="t"/>
<path d="M447.5,596.5 L448.5,595.5 L450.5,595.5 L451.5,596.5 L451.5,598.5 L447.5,604.5 L451.5,604.5" class="t"/>
<polygon points="374,637 392,630 380,641" fill="#000" shape-rendering="geometricPrecision"/>
<rect x="357.2" y="635.1" width="24.5" height="19.6" rx="3.8" fill="#000" shape-rendering="geometricPrecision"/>
<rect x="359.3" y="637.1" width="20.2" height="14.9" rx="2.2" fill="#fff" shape-rendering="geometricPrecision"/>
<path d="M367.5,641.5 L366.5,640.5 L363.5,640.5 L362.5,641.5 L362.5,643.5 L363.5,644.5 L366.5,644.5 L367.5,645.5 L367.5,648.5 L366.5,649.5 L363.5,649.5 L362.5,648.5" class="t"/>
<path d="M370.5,641.5 L371.5,640.5 L373.5,640.5 L374.5,641.5 L374.5,643.5 L370.5,649.5 L374.5,649.5" class="t"/>
<polygon points="414,641 403,630 420,637" fill="#000" shape-rendering="geometricPrecision"/>
<rect x="412.2" y="635.6" width="25" height="19.1" rx="3.8" fill="#000" shape-rendering="geometricPrecision"/>
<rect x="414.3" y="637.6" width="20.7" height="14.4" rx="2.2" fill="#fff" shape-rendering="geometricPrecision"/>
<path d="M422.5,641.5 L421.5,640.5 L418.5,640.5 L417.5,641.5 L417.5,643.5 L418.5,644.5 L421.5,644.5 L422.5,645.5 L422.5,648.5 L421.5,649.5 L418.5,649.5 L417.5,648.5" class="t"/>
<path d="M426.5,642.5 L428.5,640.5 L428.5,649.5" class="t"/>
<path d="M656.5,160.5 L656.5,152.5 L659,156.944 L661.5,152.5 L661.5,160.5" class="t"/>
<path d="M664.5,152.5 L664.5,160.5M669.5,152.5 L669.5,160.5M664.5,156.056 L669.5,156.056" class="t"/>
<path d="M673.5,154.278 L675.5,152.5 L675.5,160.5" class="t"/>
<path d="M682.5,160.5 L682.5,152.5 L679.5,157.833 L683.5,157.833" class="t"/>
<path d="M690.5,155.167 L689.5,156.944 L687.5,156.944 L686.5,156.056 L686.5,153.389 L687.5,152.5 L689.5,152.5 L690.5,153.389 L690.5,158.722 L688.5,160.5 L687.5,160.5" class="t"/>
<path d="M697.5,155.167 L696.5,156.944 L694.5,156.944 L693.5,156.056 L693.5,153.389 L694.5,152.5 L696.5,152.5 L697.5,153.389 L697.5,158.722 L695.5,160.5 L694.5,160.5" class="t"/>
</svg>
</body></html>
